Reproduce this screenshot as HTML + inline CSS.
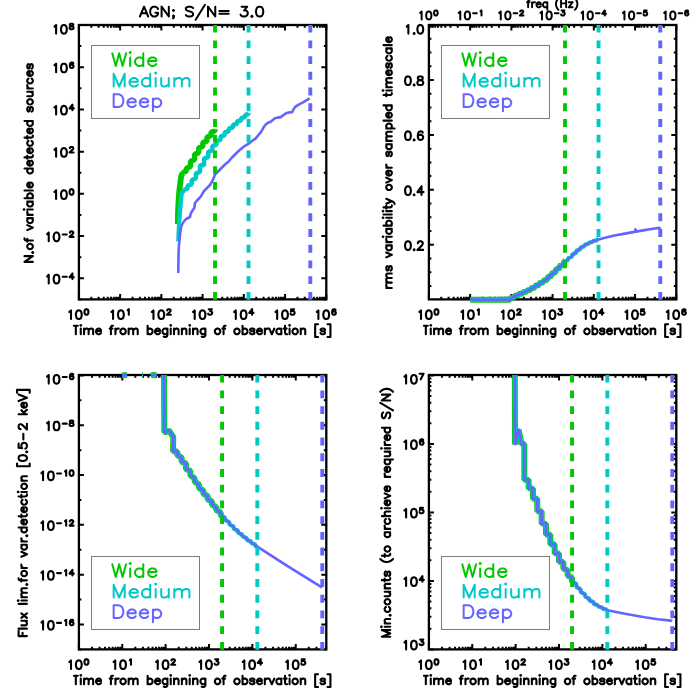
<!DOCTYPE html>
<html><head><meta charset="utf-8"><title>AGN variability</title><style>html,body{margin:0;padding:0;background:#fff;font-family:"Liberation Sans",sans-serif}svg{display:block}</style></head>
<body>
<svg width="700" height="700" viewBox="0 0 700 700">
<rect width="700" height="700" fill="#fff"/>
<rect x="78.9" y="25" width="247.4" height="274.4" fill="none" stroke="#000" stroke-width="2.3"/>
<path d="M78.9 299.4L78.9 293.9M78.9 25L78.9 30.5M91.31 299.4L91.31 296.7M91.31 25L91.31 27.7M98.57 299.4L98.57 296.7M98.57 25L98.57 27.7M103.72 299.4L103.72 296.7M103.72 25L103.72 27.7M107.72 299.4L107.72 296.7M107.72 25L107.72 27.7M110.99 299.4L110.99 296.7M110.99 25L110.99 27.7M113.75 299.4L113.75 296.7M113.75 25L113.75 27.7M116.14 299.4L116.14 296.7M116.14 25L116.14 27.7M118.25 299.4L118.25 296.7M118.25 25L118.25 27.7M120.13 299.4L120.13 293.9M120.13 25L120.13 30.5M132.55 299.4L132.55 296.7M132.55 25L132.55 27.7M139.81 299.4L139.81 296.7M139.81 25L139.81 27.7M144.96 299.4L144.96 296.7M144.96 25L144.96 27.7M148.95 299.4L148.95 296.7M148.95 25L148.95 27.7M152.22 299.4L152.22 296.7M152.22 25L152.22 27.7M154.98 299.4L154.98 296.7M154.98 25L154.98 27.7M157.37 299.4L157.37 296.7M157.37 25L157.37 27.7M159.48 299.4L159.48 296.7M159.48 25L159.48 27.7M161.37 299.4L161.37 293.9M161.37 25L161.37 30.5M173.78 299.4L173.78 296.7M173.78 25L173.78 27.7M181.04 299.4L181.04 296.7M181.04 25L181.04 27.7M186.19 299.4L186.19 296.7M186.19 25L186.19 27.7M190.19 299.4L190.19 296.7M190.19 25L190.19 27.7M193.45 299.4L193.45 296.7M193.45 25L193.45 27.7M196.21 299.4L196.21 296.7M196.21 25L196.21 27.7M198.6 299.4L198.6 296.7M198.6 25L198.6 27.7M200.71 299.4L200.71 296.7M200.71 25L200.71 27.7M202.6 299.4L202.6 293.9M202.6 25L202.6 30.5M215.01 299.4L215.01 296.7M215.01 25L215.01 27.7M222.27 299.4L222.27 296.7M222.27 25L222.27 27.7M227.42 299.4L227.42 296.7M227.42 25L227.42 27.7M231.42 299.4L231.42 296.7M231.42 25L231.42 27.7M234.69 299.4L234.69 296.7M234.69 25L234.69 27.7M237.45 299.4L237.45 296.7M237.45 25L237.45 27.7M239.84 299.4L239.84 296.7M239.84 25L239.84 27.7M241.95 299.4L241.95 296.7M241.95 25L241.95 27.7M243.83 299.4L243.83 293.9M243.83 25L243.83 30.5M256.25 299.4L256.25 296.7M256.25 25L256.25 27.7M263.51 299.4L263.51 296.7M263.51 25L263.51 27.7M268.66 299.4L268.66 296.7M268.66 25L268.66 27.7M272.65 299.4L272.65 296.7M272.65 25L272.65 27.7M275.92 299.4L275.92 296.7M275.92 25L275.92 27.7M278.68 299.4L278.68 296.7M278.68 25L278.68 27.7M281.07 299.4L281.07 296.7M281.07 25L281.07 27.7M283.18 299.4L283.18 296.7M283.18 25L283.18 27.7M285.07 299.4L285.07 293.9M285.07 25L285.07 30.5M297.48 299.4L297.48 296.7M297.48 25L297.48 27.7M304.74 299.4L304.74 296.7M304.74 25L304.74 27.7M309.89 299.4L309.89 296.7M309.89 25L309.89 27.7M313.89 299.4L313.89 296.7M313.89 25L313.89 27.7M317.15 299.4L317.15 296.7M317.15 25L317.15 27.7M319.91 299.4L319.91 296.7M319.91 25L319.91 27.7M322.3 299.4L322.3 296.7M322.3 25L322.3 27.7M324.41 299.4L324.41 296.7M324.41 25L324.41 27.7M326.3 299.4L326.3 293.9M326.3 25L326.3 30.5M78.9 299.4L81.4 299.4M326.3 299.4L323.8 299.4M78.9 278.29L83.9 278.29M326.3 278.29L321.3 278.29M78.9 257.18L81.4 257.18M326.3 257.18L323.8 257.18M78.9 236.08L83.9 236.08M326.3 236.08L321.3 236.08M78.9 214.97L81.4 214.97M326.3 214.97L323.8 214.97M78.9 193.86L83.9 193.86M326.3 193.86L321.3 193.86M78.9 172.75L81.4 172.75M326.3 172.75L323.8 172.75M78.9 151.65L83.9 151.65M326.3 151.65L321.3 151.65M78.9 130.54L81.4 130.54M326.3 130.54L323.8 130.54M78.9 109.43L83.9 109.43M326.3 109.43L321.3 109.43M78.9 88.32L81.4 88.32M326.3 88.32L323.8 88.32M78.9 67.22L83.9 67.22M326.3 67.22L321.3 67.22M78.9 46.11L81.4 46.11M326.3 46.11L323.8 46.11M78.9 25L83.9 25M326.3 25L321.3 25" stroke="#000" stroke-width="2" fill="none"/>
<g>
<polyline points="177.8,224 178,212 178.6,200 179.3,191 180.2,184 181.2,176 182.2,174 183.2,173.2" fill="none" stroke="#00c800" stroke-width="5.8" stroke-linejoin="round" stroke-linecap="butt"/>
<polyline points="182.2,172.45 186.32,171.42 186.32,168.13 190.45,166.67 190.45,161.26 194.57,159.84 194.57,154.35 198.69,152.83 198.69,147.87 202.81,146.45 202.81,142.48 206.94,141.14 206.94,137.08 211.06,135.75 211.06,132.02 215,130.95 215,129.3" fill="none" stroke="#00c800" stroke-width="5.3" stroke-linejoin="bevel" stroke-linecap="butt"/>
<polyline points="178.4,241.5 178.7,232 179.3,220 180,211 180.7,204 181.3,197 181.8,193 183.5,191 184.5,190.2" fill="none" stroke="#00c8c8" stroke-width="4.3" stroke-linejoin="round" stroke-linecap="butt"/>
<polyline points="183.5,189.74 187.62,188.9 187.62,185.68 191.75,184.34 191.75,180.01 195.87,178.46 195.87,173.44 199.99,171.98 199.99,165.22 204.11,165.18 204.12,158.5 208.24,157.1 208.24,151.86 212.36,150.28 212.36,145.99 216.48,144.74 216.48,141.06 220.61,139.83 220.61,136.37 224.73,135.32 224.73,132.22 228.85,131.24 228.85,128.41 232.98,127.49 232.98,124.79 237.1,123.9 237.1,121.3 241.22,120.44 241.22,117.9 245.34,117.08 245.34,114.65 248.6,114.14 248.6,113.3" fill="none" stroke="#00c8c8" stroke-width="4.5" stroke-linejoin="bevel" stroke-linecap="butt"/>
<polyline points="178.3,273 178.4,262 178.7,249 179.6,238 180.6,230 181.6,225.5 183.5,222 185.7,219.3 188,218 190,217 190.7,213.6 192.5,210.5 194.3,207.9 195,203 197,200.5 199.5,198 201.4,195.7 203,192.5 204.5,190.5 207,188 210,185 212.9,180 215,174.5 218,171.5 221.5,168 225,164.5 228.6,161.4 232,157.5 236,153.5 240,149.8 244,146.5 248.6,143.6 252,141 255.7,138.4 258.5,135 261.4,131.4 263.5,127.5 265.7,124.5 268,122.8 270.7,121.7 273,119.8 275,118.3 278,117.6 280.7,117.1 283.5,115 286.4,113.1 289,112.4 292.1,112.1 293.5,109.5 295,107.1 298.6,104.6 302.1,102.9 305.5,100.8 309.6,98.4" fill="none" stroke="#6464ff" stroke-width="2.6" stroke-linejoin="round" stroke-linecap="butt"/>
<line x1="215.01" y1="25.1" x2="215.01" y2="299.9" stroke="#00c800" stroke-width="3.9" stroke-dasharray="7.86 7.86" stroke-dashoffset="0.4"/>
<line x1="248.53" y1="25.1" x2="248.53" y2="299.9" stroke="#00c8c8" stroke-width="3.9" stroke-dasharray="7.86 7.86" stroke-dashoffset="0.4"/>
<line x1="310.29" y1="25.1" x2="310.29" y2="299.9" stroke="#6464ff" stroke-width="3.9" stroke-dasharray="7.86 7.86" stroke-dashoffset="0.4"/>
</g>
<rect x="91.5" y="45.5" width="108" height="73" fill="none" stroke="#7c7c7c" stroke-width="1"/>
<path transform="translate(110.9 65.9)" d="M1.38 -12.71 L4.82 0M8.27 -12.71 L4.82 0M8.27 -12.71 L11.71 0M15.16 -12.71 L11.71 0M18.74 -13.43 L19.29 -12.95 L19.84 -13.43 L19.29 -13.91 L18.74 -13.43M19.29 -8.47 L19.29 0M32.38 -12.71 L32.38 0M32.38 -6.65 L31 -7.87 L29.63 -8.47 L27.56 -8.47 L26.18 -7.87 L24.8 -6.65 L24.11 -4.84 L24.11 -3.63 L24.8 -1.81 L26.18 -0.6 L27.56 0 L29.63 0 L31 -0.6 L32.38 -1.81M37.21 -4.84 L45.47 -4.84 L45.47 -6.05 L44.78 -7.26 L44.1 -7.87 L42.72 -8.47 L40.65 -8.47 L39.27 -7.87 L37.89 -6.65 L37.21 -4.84 L37.21 -3.63 L37.89 -1.81 L39.27 -0.6 L40.65 0 L42.72 0 L44.1 -0.6 L45.47 -1.81" fill="none" stroke="#00c800" stroke-width="2" stroke-linecap="round" stroke-linejoin="round"/>
<path transform="translate(110.9 86.5)" d="M2.76 -12.71 L2.76 0M2.76 -12.71 L8.27 0M13.78 -12.71 L8.27 0M13.78 -12.71 L13.78 0M18.6 -4.84 L26.87 -4.84 L26.87 -6.05 L26.18 -7.26 L25.49 -7.87 L24.11 -8.47 L22.05 -8.47 L20.67 -7.87 L19.29 -6.65 L18.6 -4.84 L18.6 -3.63 L19.29 -1.81 L20.67 -0.6 L22.05 0 L24.11 0 L25.49 -0.6 L26.87 -1.81M39.27 -12.71 L39.27 0M39.27 -6.65 L37.89 -7.87 L36.52 -8.47 L34.45 -8.47 L33.07 -7.87 L31.69 -6.65 L31 -4.84 L31 -3.63 L31.69 -1.81 L33.07 -0.6 L34.45 0 L36.52 0 L37.89 -0.6 L39.27 -1.81M44.23 -13.43 L44.78 -12.95 L45.34 -13.43 L44.78 -13.91 L44.23 -13.43M44.78 -8.47 L44.78 0M50.3 -8.47 L50.3 -2.42 L50.99 -0.6 L52.36 0 L54.43 0 L55.81 -0.6 L57.88 -2.42M57.88 -8.47 L57.88 0M63.39 -8.47 L63.39 0M63.39 -6.05 L65.45 -7.87 L66.83 -8.47 L68.9 -8.47 L70.28 -7.87 L70.97 -6.05 L70.97 0M70.97 -6.05 L73.03 -7.87 L74.41 -8.47 L76.48 -8.47 L77.86 -7.87 L78.55 -6.05 L78.55 0" fill="none" stroke="#00c8c8" stroke-width="2" stroke-linecap="round" stroke-linejoin="round"/>
<path transform="translate(110.9 107)" d="M2.76 -12.71 L2.76 0M2.76 -12.71 L7.58 -12.71 L9.65 -12.1 L11.02 -10.89 L11.71 -9.68 L12.4 -7.87 L12.4 -4.84 L11.71 -3.02 L11.02 -1.81 L9.65 -0.6 L7.58 0 L2.76 0M16.54 -4.84 L24.8 -4.84 L24.8 -6.05 L24.11 -7.26 L23.43 -7.87 L22.05 -8.47 L19.98 -8.47 L18.6 -7.87 L17.22 -6.65 L16.54 -4.84 L16.54 -3.63 L17.22 -1.81 L18.6 -0.6 L19.98 0 L22.05 0 L23.43 -0.6 L24.8 -1.81M28.94 -4.84 L37.21 -4.84 L37.21 -6.05 L36.52 -7.26 L35.83 -7.87 L34.45 -8.47 L32.38 -8.47 L31 -7.87 L29.63 -6.65 L28.94 -4.84 L28.94 -3.63 L29.63 -1.81 L31 -0.6 L32.38 0 L34.45 0 L35.83 -0.6 L37.21 -1.81M42.03 -8.47 L42.03 4.23M42.03 -6.65 L43.41 -7.87 L44.78 -8.47 L46.85 -8.47 L48.23 -7.87 L49.61 -6.65 L50.3 -4.84 L50.3 -3.63 L49.61 -1.81 L48.23 -0.6 L46.85 0 L44.78 0 L43.41 -0.6 L42.03 -1.81" fill="none" stroke="#6464ff" stroke-width="2" stroke-linecap="round" stroke-linejoin="round"/>
<path transform="translate(202.1 16.5)" d="M-58.05 -9.83 L-62.18 0M-58.05 -9.83 L-53.92 0M-60.63 -3.28 L-55.47 -3.28M-44.12 -7.49 L-44.63 -8.42 L-45.67 -9.36 L-46.7 -9.83 L-48.76 -9.83 L-49.79 -9.36 L-50.83 -8.42 L-51.34 -7.49 L-51.86 -6.08 L-51.86 -3.74 L-51.34 -2.34 L-50.83 -1.4 L-49.79 -0.47 L-48.76 0 L-46.7 0 L-45.67 -0.47 L-44.63 -1.4 L-44.12 -2.34 L-44.12 -3.74M-46.7 -3.74 L-44.12 -3.74M-40.51 -9.83 L-40.51 0M-40.51 -9.83 L-33.28 0M-33.28 -9.83 L-33.28 0M-28.64 -6.55 L-29.15 -6.08 L-28.64 -5.62 L-28.12 -6.08 L-28.64 -6.55M-28.12 -0.47 L-28.64 0 L-29.15 -0.47 L-28.64 -0.94 L-28.12 -0.47 L-28.12 0.47 L-28.64 1.4 L-29.15 1.87M-9.03 -8.42 L-10.06 -9.36 L-11.61 -9.83 L-13.67 -9.83 L-15.22 -9.36 L-16.25 -8.42 L-16.25 -7.49 L-15.74 -6.55 L-15.22 -6.08 L-14.19 -5.62 L-11.09 -4.68 L-10.06 -4.21 L-9.55 -3.74 L-9.03 -2.81 L-9.03 -1.4 L-10.06 -0.47 L-11.61 0 L-13.67 0 L-15.22 -0.47 L-16.25 -1.4M2.84 -11.7 L-6.45 3.28M5.93 -9.83 L5.93 0M5.93 -9.83 L13.16 0M13.16 -9.83 L13.16 0M17.29 -5.62 L26.57 -5.62M17.29 -2.81 L26.57 -2.81M39.47 -9.83 L45.15 -9.83 L42.05 -6.08 L43.6 -6.08 L44.63 -5.62 L45.15 -5.15 L45.67 -3.74 L45.67 -2.81 L45.15 -1.4 L44.12 -0.47 L42.57 0 L41.02 0 L39.47 -0.47 L38.96 -0.94 L38.44 -1.87M49.79 -0.66 L49.17 -0.09 L49.79 0.47 L50.41 -0.09 L49.79 -0.66M57.02 -9.83 L55.47 -9.36 L54.44 -7.96 L53.92 -5.62 L53.92 -4.21 L54.44 -1.87 L55.47 -0.47 L57.02 0 L58.05 0 L59.6 -0.47 L60.63 -1.87 L61.15 -4.21 L61.15 -5.62 L60.63 -7.96 L59.6 -9.36 L58.05 -9.83 L57.02 -9.83" fill="none" stroke="#000" stroke-width="2" stroke-linecap="round" stroke-linejoin="round"/>
<path transform="translate(78.9 319)" d="M-9.54 -7.09 L-9.13 -7.38 L-7.9 -8.61 L-7.9 0M-0.5 -8.61 L-1.73 -8.2 L-2.56 -6.97 L-2.97 -4.92 L-2.97 -3.69 L-2.56 -1.64 L-1.73 -0.41 L-0.5 0 L0.32 0 L1.55 -0.41 L2.38 -1.64 L2.79 -3.69 L2.79 -4.92 L2.38 -6.97 L1.55 -8.2 L0.32 -8.61 L-0.5 -8.61M7.27 -9.82 L6.42 -9.55 L5.86 -8.77 L5.57 -7.45 L5.57 -6.67 L5.86 -5.35 L6.42 -4.57 L7.27 -4.3 L7.84 -4.3 L8.69 -4.57 L9.26 -5.35 L9.54 -6.67 L9.54 -7.45 L9.26 -8.77 L8.69 -9.55 L7.84 -9.82 L7.27 -9.82" fill="none" stroke="#000" stroke-width="2.1" stroke-linecap="round" stroke-linejoin="round"/>
<path transform="translate(120.13 319)" d="M-8.69 -7.09 L-8.28 -7.38 L-7.05 -8.61 L-7.05 0M0.35 -8.61 L-0.88 -8.2 L-1.7 -6.97 L-2.12 -4.92 L-2.12 -3.69 L-1.7 -1.64 L-0.88 -0.41 L0.35 0 L1.17 0 L2.41 -0.41 L3.23 -1.64 L3.64 -3.69 L3.64 -4.92 L3.23 -6.97 L2.41 -8.2 L1.17 -8.61 L0.35 -8.61M7.56 -8.84 L7.84 -9.03 L8.69 -9.82 L8.69 -4.3" fill="none" stroke="#000" stroke-width="2.1" stroke-linecap="round" stroke-linejoin="round"/>
<path transform="translate(161.37 319)" d="M-9.54 -7.09 L-9.13 -7.38 L-7.9 -8.61 L-7.9 0M-0.5 -8.61 L-1.73 -8.2 L-2.56 -6.97 L-2.97 -4.92 L-2.97 -3.69 L-2.56 -1.64 L-1.73 -0.41 L-0.5 0 L0.32 0 L1.55 -0.41 L2.38 -1.64 L2.79 -3.69 L2.79 -4.92 L2.38 -6.97 L1.55 -8.2 L0.32 -8.61 L-0.5 -8.61M5.86 -8.5 L5.86 -8.77 L6.14 -9.29 L6.42 -9.55 L6.99 -9.82 L8.12 -9.82 L8.69 -9.55 L8.97 -9.29 L9.26 -8.77 L9.26 -8.24 L8.97 -7.72 L8.41 -6.93 L5.57 -4.3 L9.54 -4.3" fill="none" stroke="#000" stroke-width="2.1" stroke-linecap="round" stroke-linejoin="round"/>
<path transform="translate(202.6 319)" d="M-9.54 -7.09 L-9.13 -7.38 L-7.9 -8.61 L-7.9 0M-0.5 -8.61 L-1.73 -8.2 L-2.56 -6.97 L-2.97 -4.92 L-2.97 -3.69 L-2.56 -1.64 L-1.73 -0.41 L-0.5 0 L0.32 0 L1.55 -0.41 L2.38 -1.64 L2.79 -3.69 L2.79 -4.92 L2.38 -6.97 L1.55 -8.2 L0.32 -8.61 L-0.5 -8.61M6.14 -9.82 L9.26 -9.82 L7.56 -7.72 L8.41 -7.72 L8.97 -7.45 L9.26 -7.19 L9.54 -6.4 L9.54 -5.88 L9.26 -5.09 L8.69 -4.57 L7.84 -4.3 L6.99 -4.3 L6.14 -4.57 L5.86 -4.83 L5.57 -5.35" fill="none" stroke="#000" stroke-width="2.1" stroke-linecap="round" stroke-linejoin="round"/>
<path transform="translate(243.83 319)" d="M-9.68 -7.09 L-9.27 -7.38 L-8.04 -8.61 L-8.04 0M-0.64 -8.61 L-1.87 -8.2 L-2.7 -6.97 L-3.11 -4.92 L-3.11 -3.69 L-2.7 -1.64 L-1.87 -0.41 L-0.64 0 L0.18 0 L1.41 -0.41 L2.24 -1.64 L2.65 -3.69 L2.65 -4.92 L2.24 -6.97 L1.41 -8.2 L0.18 -8.61 L-0.64 -8.61M8.27 -9.82 L5.43 -6.14 L9.68 -6.14M8.27 -9.82 L8.27 -4.3" fill="none" stroke="#000" stroke-width="2.1" stroke-linecap="round" stroke-linejoin="round"/>
<path transform="translate(285.07 319)" d="M-9.54 -7.09 L-9.13 -7.38 L-7.9 -8.61 L-7.9 0M-0.5 -8.61 L-1.73 -8.2 L-2.56 -6.97 L-2.97 -4.92 L-2.97 -3.69 L-2.56 -1.64 L-1.73 -0.41 L-0.5 0 L0.32 0 L1.55 -0.41 L2.38 -1.64 L2.79 -3.69 L2.79 -4.92 L2.38 -6.97 L1.55 -8.2 L0.32 -8.61 L-0.5 -8.61M8.97 -9.82 L6.14 -9.82 L5.86 -7.45 L6.14 -7.72 L6.99 -7.98 L7.84 -7.98 L8.69 -7.72 L9.26 -7.19 L9.54 -6.4 L9.54 -5.88 L9.26 -5.09 L8.69 -4.57 L7.84 -4.3 L6.99 -4.3 L6.14 -4.57 L5.86 -4.83 L5.57 -5.35" fill="none" stroke="#000" stroke-width="2.1" stroke-linecap="round" stroke-linejoin="round"/>
<path transform="translate(326.3 319)" d="M-9.54 -7.09 L-9.13 -7.38 L-7.9 -8.61 L-7.9 0M-0.5 -8.61 L-1.73 -8.2 L-2.56 -6.97 L-2.97 -4.92 L-2.97 -3.69 L-2.56 -1.64 L-1.73 -0.41 L-0.5 0 L0.32 0 L1.55 -0.41 L2.38 -1.64 L2.79 -3.69 L2.79 -4.92 L2.38 -6.97 L1.55 -8.2 L0.32 -8.61 L-0.5 -8.61M9.26 -9.03 L8.97 -9.55 L8.12 -9.82 L7.56 -9.82 L6.71 -9.55 L6.14 -8.77 L5.86 -7.45 L5.86 -6.14 L6.14 -5.09 L6.71 -4.57 L7.56 -4.3 L7.84 -4.3 L8.69 -4.57 L9.26 -5.09 L9.54 -5.88 L9.54 -6.14 L9.26 -6.93 L8.69 -7.45 L7.84 -7.72 L7.56 -7.72 L6.71 -7.45 L6.14 -6.93 L5.86 -6.14" fill="none" stroke="#000" stroke-width="2.1" stroke-linecap="round" stroke-linejoin="round"/>
<path transform="translate(202.3 334.2)" d="M-126.48 -8.4 L-126.48 0M-128.37 -8.4 L-124.58 -8.4M-121.85 -8.88 L-121.52 -8.56 L-121.19 -8.88 L-121.52 -9.2 L-121.85 -8.88M-121.52 -5.6 L-121.52 0M-118.22 -5.6 L-118.22 0M-118.22 -4 L-116.98 -5.2 L-116.16 -5.6 L-114.92 -5.6 L-114.1 -5.2 L-113.68 -4 L-113.68 0M-113.68 -4 L-112.45 -5.2 L-111.62 -5.6 L-110.38 -5.6 L-109.56 -5.2 L-109.14 -4 L-109.14 0M-106.26 -3.2 L-101.3 -3.2 L-101.3 -4 L-101.72 -4.8 L-102.13 -5.2 L-102.95 -5.6 L-104.19 -5.6 L-105.02 -5.2 L-105.84 -4.4 L-106.26 -3.2 L-106.26 -2.4 L-105.84 -1.2 L-105.02 -0.4 L-104.19 0 L-102.95 0 L-102.13 -0.4 L-101.3 -1.2M-89.34 -8.4 L-90.16 -8.4 L-90.99 -8 L-91.4 -6.8 L-91.4 0M-92.64 -5.6 L-89.75 -5.6M-86.86 -5.6 L-86.86 0M-86.86 -3.2 L-86.45 -4.4 L-85.62 -5.2 L-84.8 -5.6 L-83.56 -5.6M-79.85 -5.6 L-80.67 -5.2 L-81.5 -4.4 L-81.91 -3.2 L-81.91 -2.4 L-81.5 -1.2 L-80.67 -0.4 L-79.85 0 L-78.61 0 L-77.78 -0.4 L-76.96 -1.2 L-76.55 -2.4 L-76.55 -3.2 L-76.96 -4.4 L-77.78 -5.2 L-78.61 -5.6 L-79.85 -5.6M-73.66 -5.6 L-73.66 0M-73.66 -4 L-72.42 -5.2 L-71.59 -5.6 L-70.36 -5.6 L-69.53 -5.2 L-69.12 -4 L-69.12 0M-69.12 -4 L-67.88 -5.2 L-67.05 -5.6 L-65.82 -5.6 L-64.99 -5.2 L-64.58 -4 L-64.58 0M-54.68 -8.4 L-54.68 0M-54.68 -4.4 L-53.85 -5.2 L-53.02 -5.6 L-51.79 -5.6 L-50.96 -5.2 L-50.14 -4.4 L-49.72 -3.2 L-49.72 -2.4 L-50.14 -1.2 L-50.96 -0.4 L-51.79 0 L-53.02 0 L-53.85 -0.4 L-54.68 -1.2M-47.25 -3.2 L-42.3 -3.2 L-42.3 -4 L-42.71 -4.8 L-43.12 -5.2 L-43.95 -5.6 L-45.18 -5.6 L-46.01 -5.2 L-46.84 -4.4 L-47.25 -3.2 L-47.25 -2.4 L-46.84 -1.2 L-46.01 -0.4 L-45.18 0 L-43.95 0 L-43.12 -0.4 L-42.3 -1.2M-34.87 -5.6 L-34.87 0.8 L-35.28 2 L-35.69 2.4 L-36.52 2.8 L-37.76 2.8 L-38.58 2.4M-34.87 -4.4 L-35.69 -5.2 L-36.52 -5.6 L-37.76 -5.6 L-38.58 -5.2 L-39.41 -4.4 L-39.82 -3.2 L-39.82 -2.4 L-39.41 -1.2 L-38.58 -0.4 L-37.76 0 L-36.52 0 L-35.69 -0.4 L-34.87 -1.2M-31.9 -8.88 L-31.57 -8.56 L-31.24 -8.88 L-31.57 -9.2 L-31.9 -8.88M-31.57 -5.6 L-31.57 0M-28.27 -5.6 L-28.27 0M-28.27 -4 L-27.03 -5.2 L-26.2 -5.6 L-24.96 -5.6 L-24.14 -5.2 L-23.73 -4 L-23.73 0M-20.43 -5.6 L-20.43 0M-20.43 -4 L-19.19 -5.2 L-18.36 -5.6 L-17.12 -5.6 L-16.3 -5.2 L-15.89 -4 L-15.89 0M-12.92 -8.88 L-12.59 -8.56 L-12.26 -8.88 L-12.59 -9.2 L-12.92 -8.88M-12.59 -5.6 L-12.59 0M-9.28 -5.6 L-9.28 0M-9.28 -4 L-8.05 -5.2 L-7.22 -5.6 L-5.98 -5.6 L-5.16 -5.2 L-4.75 -4 L-4.75 0M3.09 -5.6 L3.09 0.8 L2.68 2 L2.27 2.4 L1.44 2.8 L0.21 2.8 L-0.62 2.4M3.09 -4.4 L2.27 -5.2 L1.44 -5.6 L0.21 -5.6 L-0.62 -5.2 L-1.44 -4.4 L-1.86 -3.2 L-1.86 -2.4 L-1.44 -1.2 L-0.62 -0.4 L0.21 0 L1.44 0 L2.27 -0.4 L3.09 -1.2M14.65 -5.6 L13.82 -5.2 L13 -4.4 L12.59 -3.2 L12.59 -2.4 L13 -1.2 L13.82 -0.4 L14.65 0 L15.89 0 L16.71 -0.4 L17.54 -1.2 L17.95 -2.4 L17.95 -3.2 L17.54 -4.4 L16.71 -5.2 L15.89 -5.6 L14.65 -5.6M23.31 -8.4 L22.49 -8.4 L21.66 -8 L21.25 -6.8 L21.25 0M20.01 -5.6 L22.9 -5.6M34.04 -5.6 L33.22 -5.2 L32.39 -4.4 L31.98 -3.2 L31.98 -2.4 L32.39 -1.2 L33.22 -0.4 L34.04 0 L35.28 0 L36.11 -0.4 L36.93 -1.2 L37.34 -2.4 L37.34 -3.2 L36.93 -4.4 L36.11 -5.2 L35.28 -5.6 L34.04 -5.6M40.23 -8.4 L40.23 0M40.23 -4.4 L41.06 -5.2 L41.88 -5.6 L43.12 -5.6 L43.95 -5.2 L44.77 -4.4 L45.18 -3.2 L45.18 -2.4 L44.77 -1.2 L43.95 -0.4 L43.12 0 L41.88 0 L41.06 -0.4 L40.23 -1.2M52.2 -4.4 L51.79 -5.2 L50.55 -5.6 L49.31 -5.6 L48.07 -5.2 L47.66 -4.4 L48.07 -3.6 L48.9 -3.2 L50.96 -2.8 L51.79 -2.4 L52.2 -1.6 L52.2 -1.2 L51.79 -0.4 L50.55 0 L49.31 0 L48.07 -0.4 L47.66 -1.2M54.68 -3.2 L59.63 -3.2 L59.63 -4 L59.21 -4.8 L58.8 -5.2 L57.98 -5.6 L56.74 -5.6 L55.91 -5.2 L55.09 -4.4 L54.68 -3.2 L54.68 -2.4 L55.09 -1.2 L55.91 -0.4 L56.74 0 L57.98 0 L58.8 -0.4 L59.63 -1.2M62.52 -5.6 L62.52 0M62.52 -3.2 L62.93 -4.4 L63.75 -5.2 L64.58 -5.6 L65.82 -5.6M67.05 -5.6 L69.53 0M72.01 -5.6 L69.53 0M79.02 -5.6 L79.02 0M79.02 -4.4 L78.2 -5.2 L77.37 -5.6 L76.13 -5.6 L75.31 -5.2 L74.48 -4.4 L74.07 -3.2 L74.07 -2.4 L74.48 -1.2 L75.31 -0.4 L76.13 0 L77.37 0 L78.2 -0.4 L79.02 -1.2M82.74 -8.4 L82.74 -1.6 L83.15 -0.4 L83.97 0 L84.8 0M81.5 -5.6 L84.39 -5.6M86.94 -8.88 L87.27 -8.56 L87.6 -8.88 L87.27 -9.2 L86.94 -8.88M87.27 -5.6 L87.27 0M92.23 -5.6 L91.4 -5.2 L90.58 -4.4 L90.16 -3.2 L90.16 -2.4 L90.58 -1.2 L91.4 -0.4 L92.23 0 L93.46 0 L94.29 -0.4 L95.11 -1.2 L95.53 -2.4 L95.53 -3.2 L95.11 -4.4 L94.29 -5.2 L93.46 -5.6 L92.23 -5.6M98.42 -5.6 L98.42 0M98.42 -4 L99.65 -5.2 L100.48 -5.6 L101.72 -5.6 L102.54 -5.2 L102.95 -4 L102.95 0M112.86 -10 L112.86 2.8M112.86 -10 L115.75 -10M112.86 2.8 L115.75 2.8M122.76 -4.4 L122.35 -5.2 L121.11 -5.6 L119.87 -5.6 L118.64 -5.2 L118.22 -4.4 L118.64 -3.6 L119.46 -3.2 L121.52 -2.8 L122.35 -2.4 L122.76 -1.6 L122.76 -1.2 L122.35 -0.4 L121.11 0 L119.87 0 L118.64 -0.4 L118.22 -1.2M128.13 -10 L128.13 2.8M125.24 -10 L128.13 -10M125.24 2.8 L128.13 2.8" fill="none" stroke="#000" stroke-width="2.1" stroke-linecap="round" stroke-linejoin="round"/>
<path transform="translate(74.4 33.61)" d="M-19.93 -7.09 L-19.52 -7.38 L-18.29 -8.61 L-18.29 0M-10.89 -8.61 L-12.13 -8.2 L-12.95 -6.97 L-13.36 -4.92 L-13.36 -3.69 L-12.95 -1.64 L-12.13 -0.41 L-10.89 0 L-10.07 0 L-8.84 -0.41 L-8.02 -1.64 L-7.6 -3.69 L-7.6 -4.92 L-8.02 -6.97 L-8.84 -8.2 L-10.07 -8.61 L-10.89 -8.61M-3.4 -9.82 L-4.25 -9.55 L-4.54 -9.03 L-4.54 -8.5 L-4.25 -7.98 L-3.69 -7.72 L-2.55 -7.45 L-1.7 -7.19 L-1.13 -6.67 L-0.85 -6.14 L-0.85 -5.35 L-1.13 -4.83 L-1.42 -4.57 L-2.27 -4.3 L-3.4 -4.3 L-4.25 -4.57 L-4.54 -4.83 L-4.82 -5.35 L-4.82 -6.14 L-4.54 -6.67 L-3.97 -7.19 L-3.12 -7.45 L-1.99 -7.72 L-1.42 -7.98 L-1.13 -8.5 L-1.13 -9.03 L-1.42 -9.55 L-2.27 -9.82 L-3.4 -9.82" fill="none" stroke="#000" stroke-width="2.1" stroke-linecap="round" stroke-linejoin="round"/>
<path transform="translate(74.4 72.32)" d="M-19.93 -7.09 L-19.52 -7.38 L-18.29 -8.61 L-18.29 0M-10.89 -8.61 L-12.13 -8.2 L-12.95 -6.97 L-13.36 -4.92 L-13.36 -3.69 L-12.95 -1.64 L-12.13 -0.41 L-10.89 0 L-10.07 0 L-8.84 -0.41 L-8.02 -1.64 L-7.6 -3.69 L-7.6 -4.92 L-8.02 -6.97 L-8.84 -8.2 L-10.07 -8.61 L-10.89 -8.61M-1.13 -9.03 L-1.42 -9.55 L-2.27 -9.82 L-2.84 -9.82 L-3.69 -9.55 L-4.25 -8.77 L-4.54 -7.45 L-4.54 -6.14 L-4.25 -5.09 L-3.69 -4.57 L-2.84 -4.3 L-2.55 -4.3 L-1.7 -4.57 L-1.13 -5.09 L-0.85 -5.88 L-0.85 -6.14 L-1.13 -6.93 L-1.7 -7.45 L-2.55 -7.72 L-2.84 -7.72 L-3.69 -7.45 L-4.25 -6.93 L-4.54 -6.14" fill="none" stroke="#000" stroke-width="2.1" stroke-linecap="round" stroke-linejoin="round"/>
<path transform="translate(74.4 114.53)" d="M-19.93 -7.09 L-19.52 -7.38 L-18.29 -8.61 L-18.29 0M-10.89 -8.61 L-12.13 -8.2 L-12.95 -6.97 L-13.36 -4.92 L-13.36 -3.69 L-12.95 -1.64 L-12.13 -0.41 L-10.89 0 L-10.07 0 L-8.84 -0.41 L-8.02 -1.64 L-7.6 -3.69 L-7.6 -4.92 L-8.02 -6.97 L-8.84 -8.2 L-10.07 -8.61 L-10.89 -8.61M-1.99 -9.82 L-4.82 -6.14 L-0.57 -6.14M-1.99 -9.82 L-1.99 -4.3" fill="none" stroke="#000" stroke-width="2.1" stroke-linecap="round" stroke-linejoin="round"/>
<path transform="translate(74.4 156.75)" d="M-19.93 -7.09 L-19.52 -7.38 L-18.29 -8.61 L-18.29 0M-10.89 -8.61 L-12.13 -8.2 L-12.95 -6.97 L-13.36 -4.92 L-13.36 -3.69 L-12.95 -1.64 L-12.13 -0.41 L-10.89 0 L-10.07 0 L-8.84 -0.41 L-8.02 -1.64 L-7.6 -3.69 L-7.6 -4.92 L-8.02 -6.97 L-8.84 -8.2 L-10.07 -8.61 L-10.89 -8.61M-4.54 -8.5 L-4.54 -8.77 L-4.25 -9.29 L-3.97 -9.55 L-3.4 -9.82 L-2.27 -9.82 L-1.7 -9.55 L-1.42 -9.29 L-1.13 -8.77 L-1.13 -8.24 L-1.42 -7.72 L-1.99 -6.93 L-4.82 -4.3 L-0.85 -4.3" fill="none" stroke="#000" stroke-width="2.1" stroke-linecap="round" stroke-linejoin="round"/>
<path transform="translate(74.4 198.96)" d="M-19.93 -7.09 L-19.52 -7.38 L-18.29 -8.61 L-18.29 0M-10.89 -8.61 L-12.13 -8.2 L-12.95 -6.97 L-13.36 -4.92 L-13.36 -3.69 L-12.95 -1.64 L-12.13 -0.41 L-10.89 0 L-10.07 0 L-8.84 -0.41 L-8.02 -1.64 L-7.6 -3.69 L-7.6 -4.92 L-8.02 -6.97 L-8.84 -8.2 L-10.07 -8.61 L-10.89 -8.61M-3.12 -9.82 L-3.97 -9.55 L-4.54 -8.77 L-4.82 -7.45 L-4.82 -6.67 L-4.54 -5.35 L-3.97 -4.57 L-3.12 -4.3 L-2.55 -4.3 L-1.7 -4.57 L-1.13 -5.35 L-0.85 -6.67 L-0.85 -7.45 L-1.13 -8.77 L-1.7 -9.55 L-2.55 -9.82 L-3.12 -9.82" fill="none" stroke="#000" stroke-width="2.1" stroke-linecap="round" stroke-linejoin="round"/>
<path transform="translate(74.4 241.18)" d="M-27.31 -7.09 L-26.9 -7.38 L-25.66 -8.61 L-25.66 0M-18.27 -8.61 L-19.5 -8.2 L-20.32 -6.97 L-20.73 -4.92 L-20.73 -3.69 L-20.32 -1.64 L-19.5 -0.41 L-18.27 0 L-17.44 0 L-16.21 -0.41 L-15.39 -1.64 L-14.98 -3.69 L-14.98 -4.92 L-15.39 -6.97 L-16.21 -8.2 L-17.44 -8.61 L-18.27 -8.61M-11.63 -6.67 L-7.66 -6.67M-4.54 -8.5 L-4.54 -8.77 L-4.25 -9.29 L-3.97 -9.55 L-3.4 -9.82 L-2.27 -9.82 L-1.7 -9.55 L-1.42 -9.29 L-1.13 -8.77 L-1.13 -8.24 L-1.42 -7.72 L-1.99 -6.93 L-4.82 -4.3 L-0.85 -4.3" fill="none" stroke="#000" stroke-width="2.1" stroke-linecap="round" stroke-linejoin="round"/>
<path transform="translate(74.4 283.39)" d="M-27.31 -7.09 L-26.9 -7.38 L-25.66 -8.61 L-25.66 0M-18.27 -8.61 L-19.5 -8.2 L-20.32 -6.97 L-20.73 -4.92 L-20.73 -3.69 L-20.32 -1.64 L-19.5 -0.41 L-18.27 0 L-17.44 0 L-16.21 -0.41 L-15.39 -1.64 L-14.98 -3.69 L-14.98 -4.92 L-15.39 -6.97 L-16.21 -8.2 L-17.44 -8.61 L-18.27 -8.61M-11.63 -6.67 L-7.66 -6.67M-1.99 -9.82 L-4.82 -6.14 L-0.57 -6.14M-1.99 -9.82 L-1.99 -4.3" fill="none" stroke="#000" stroke-width="2.1" stroke-linecap="round" stroke-linejoin="round"/>
<path transform="translate(32.8 163.2) rotate(-90)" d="M-98.72 -8.29 L-98.72 0M-98.72 -8.29 L-92.94 0M-92.94 -8.29 L-92.94 0M-89.22 -0.55 L-89.72 -0.08 L-89.22 0.4 L-88.72 -0.08 L-89.22 -0.55M-83.85 -5.53 L-84.68 -5.13 L-85.5 -4.35 L-85.92 -3.16 L-85.92 -2.37 L-85.5 -1.19 L-84.68 -0.4 L-83.85 0 L-82.61 0 L-81.78 -0.4 L-80.96 -1.19 L-80.55 -2.37 L-80.55 -3.16 L-80.96 -4.35 L-81.78 -5.13 L-82.61 -5.53 L-83.85 -5.53M-75.18 -8.29 L-76 -8.29 L-76.83 -7.9 L-77.24 -6.71 L-77.24 0M-78.48 -5.53 L-75.59 -5.53M-66.91 -5.53 L-64.44 0M-61.96 -5.53 L-64.44 0M-54.94 -5.53 L-54.94 0M-54.94 -4.35 L-55.76 -5.13 L-56.59 -5.53 L-57.83 -5.53 L-58.65 -5.13 L-59.48 -4.35 L-59.89 -3.16 L-59.89 -2.37 L-59.48 -1.19 L-58.65 -0.4 L-57.83 0 L-56.59 0 L-55.76 -0.4 L-54.94 -1.19M-51.63 -5.53 L-51.63 0M-51.63 -3.16 L-51.22 -4.35 L-50.39 -5.13 L-49.57 -5.53 L-48.33 -5.53M-46.59 -8.77 L-46.26 -8.45 L-45.93 -8.77 L-46.26 -9.09 L-46.59 -8.77M-46.26 -5.53 L-46.26 0M-38.41 -5.53 L-38.41 0M-38.41 -4.35 L-39.24 -5.13 L-40.07 -5.53 L-41.31 -5.53 L-42.13 -5.13 L-42.96 -4.35 L-43.37 -3.16 L-43.37 -2.37 L-42.96 -1.19 L-42.13 -0.4 L-41.31 0 L-40.07 0 L-39.24 -0.4 L-38.41 -1.19M-35.11 -8.29 L-35.11 0M-35.11 -4.35 L-34.28 -5.13 L-33.46 -5.53 L-32.22 -5.53 L-31.39 -5.13 L-30.57 -4.35 L-30.15 -3.16 L-30.15 -2.37 L-30.57 -1.19 L-31.39 -0.4 L-32.22 0 L-33.46 0 L-34.28 -0.4 L-35.11 -1.19M-27.26 -8.29 L-27.26 0M-24.37 -3.16 L-19.41 -3.16 L-19.41 -3.95 L-19.83 -4.74 L-20.24 -5.13 L-21.07 -5.53 L-22.3 -5.53 L-23.13 -5.13 L-23.96 -4.35 L-24.37 -3.16 L-24.37 -2.37 L-23.96 -1.19 L-23.13 -0.4 L-22.3 0 L-21.07 0 L-20.24 -0.4 L-19.41 -1.19M-5.37 -8.29 L-5.37 0M-5.37 -4.35 L-6.2 -5.13 L-7.02 -5.53 L-8.26 -5.53 L-9.09 -5.13 L-9.91 -4.35 L-10.33 -3.16 L-10.33 -2.37 L-9.91 -1.19 L-9.09 -0.4 L-8.26 0 L-7.02 0 L-6.2 -0.4 L-5.37 -1.19M-2.48 -3.16 L2.48 -3.16 L2.48 -3.95 L2.07 -4.74 L1.65 -5.13 L0.83 -5.53 L-0.41 -5.53 L-1.24 -5.13 L-2.07 -4.35 L-2.48 -3.16 L-2.48 -2.37 L-2.07 -1.19 L-1.24 -0.4 L-0.41 0 L0.83 0 L1.65 -0.4 L2.48 -1.19M5.78 -8.29 L5.78 -1.58 L6.2 -0.4 L7.02 0 L7.85 0M4.54 -5.53 L7.43 -5.53M9.91 -3.16 L14.87 -3.16 L14.87 -3.95 L14.46 -4.74 L14.04 -5.13 L13.22 -5.53 L11.98 -5.53 L11.15 -5.13 L10.33 -4.35 L9.91 -3.16 L9.91 -2.37 L10.33 -1.19 L11.15 -0.4 L11.98 0 L13.22 0 L14.04 -0.4 L14.87 -1.19M22.3 -4.35 L21.48 -5.13 L20.65 -5.53 L19.41 -5.53 L18.59 -5.13 L17.76 -4.35 L17.35 -3.16 L17.35 -2.37 L17.76 -1.19 L18.59 -0.4 L19.41 0 L20.65 0 L21.48 -0.4 L22.3 -1.19M25.61 -8.29 L25.61 -1.58 L26.02 -0.4 L26.85 0 L27.67 0M24.37 -5.53 L27.26 -5.53M29.74 -3.16 L34.7 -3.16 L34.7 -3.95 L34.28 -4.74 L33.87 -5.13 L33.04 -5.53 L31.81 -5.53 L30.98 -5.13 L30.15 -4.35 L29.74 -3.16 L29.74 -2.37 L30.15 -1.19 L30.98 -0.4 L31.81 0 L33.04 0 L33.87 -0.4 L34.7 -1.19M42.13 -8.29 L42.13 0M42.13 -4.35 L41.31 -5.13 L40.48 -5.53 L39.24 -5.53 L38.41 -5.13 L37.59 -4.35 L37.17 -3.16 L37.17 -2.37 L37.59 -1.19 L38.41 -0.4 L39.24 0 L40.48 0 L41.31 -0.4 L42.13 -1.19M56.18 -4.35 L55.76 -5.13 L54.52 -5.53 L53.28 -5.53 L52.04 -5.13 L51.63 -4.35 L52.04 -3.56 L52.87 -3.16 L54.94 -2.77 L55.76 -2.37 L56.18 -1.58 L56.18 -1.19 L55.76 -0.4 L54.52 0 L53.28 0 L52.04 -0.4 L51.63 -1.19M60.72 -5.53 L59.89 -5.13 L59.07 -4.35 L58.65 -3.16 L58.65 -2.37 L59.07 -1.19 L59.89 -0.4 L60.72 0 L61.96 0 L62.78 -0.4 L63.61 -1.19 L64.02 -2.37 L64.02 -3.16 L63.61 -4.35 L62.78 -5.13 L61.96 -5.53 L60.72 -5.53M66.91 -5.53 L66.91 -1.58 L67.33 -0.4 L68.15 0 L69.39 0 L70.22 -0.4 L71.46 -1.58M71.46 -5.53 L71.46 0M74.76 -5.53 L74.76 0M74.76 -3.16 L75.18 -4.35 L76 -5.13 L76.83 -5.53 L78.07 -5.53M84.68 -4.35 L83.85 -5.13 L83.02 -5.53 L81.78 -5.53 L80.96 -5.13 L80.13 -4.35 L79.72 -3.16 L79.72 -2.37 L80.13 -1.19 L80.96 -0.4 L81.78 0 L83.02 0 L83.85 -0.4 L84.68 -1.19M87.15 -3.16 L92.11 -3.16 L92.11 -3.95 L91.7 -4.74 L91.29 -5.13 L90.46 -5.53 L89.22 -5.53 L88.39 -5.13 L87.57 -4.35 L87.15 -3.16 L87.15 -2.37 L87.57 -1.19 L88.39 -0.4 L89.22 0 L90.46 0 L91.29 -0.4 L92.11 -1.19M99.13 -4.35 L98.72 -5.13 L97.48 -5.53 L96.24 -5.53 L95 -5.13 L94.59 -4.35 L95 -3.56 L95.83 -3.16 L97.89 -2.77 L98.72 -2.37 L99.13 -1.58 L99.13 -1.19 L98.72 -0.4 L97.48 0 L96.24 0 L95 -0.4 L94.59 -1.19" fill="none" stroke="#000" stroke-width="2.1" stroke-linecap="round" stroke-linejoin="round"/>
<rect x="428.9" y="25" width="247.4" height="274.4" fill="none" stroke="#000" stroke-width="2.3"/>
<path d="M428.9 299.4L428.9 293.9M428.9 25L428.9 30.5M441.31 299.4L441.31 296.7M457.72 25L457.72 27.7M448.57 299.4L448.57 296.7M450.46 25L450.46 27.7M453.72 299.4L453.72 296.7M445.31 25L445.31 27.7M457.72 299.4L457.72 296.7M441.31 25L441.31 27.7M460.99 299.4L460.99 296.7M438.05 25L438.05 27.7M463.75 299.4L463.75 296.7M435.29 25L435.29 27.7M466.14 299.4L466.14 296.7M432.9 25L432.9 27.7M468.25 299.4L468.25 296.7M430.79 25L430.79 27.7M470.13 299.4L470.13 293.9M470.13 25L470.13 30.5M482.55 299.4L482.55 296.7M498.95 25L498.95 27.7M489.81 299.4L489.81 296.7M491.69 25L491.69 27.7M494.96 299.4L494.96 296.7M486.54 25L486.54 27.7M498.95 299.4L498.95 296.7M482.55 25L482.55 27.7M502.22 299.4L502.22 296.7M479.28 25L479.28 27.7M504.98 299.4L504.98 296.7M476.52 25L476.52 27.7M507.37 299.4L507.37 296.7M474.13 25L474.13 27.7M509.48 299.4L509.48 296.7M472.02 25L472.02 27.7M511.37 299.4L511.37 293.9M511.37 25L511.37 30.5M523.78 299.4L523.78 296.7M540.19 25L540.19 27.7M531.04 299.4L531.04 296.7M532.93 25L532.93 27.7M536.19 299.4L536.19 296.7M527.78 25L527.78 27.7M540.19 299.4L540.19 296.7M523.78 25L523.78 27.7M543.45 299.4L543.45 296.7M520.51 25L520.51 27.7M546.21 299.4L546.21 296.7M517.75 25L517.75 27.7M548.6 299.4L548.6 296.7M515.36 25L515.36 27.7M550.71 299.4L550.71 296.7M513.25 25L513.25 27.7M552.6 299.4L552.6 293.9M552.6 25L552.6 30.5M565.01 299.4L565.01 296.7M581.42 25L581.42 27.7M572.27 299.4L572.27 296.7M574.16 25L574.16 27.7M577.42 299.4L577.42 296.7M569.01 25L569.01 27.7M581.42 299.4L581.42 296.7M565.01 25L565.01 27.7M584.69 299.4L584.69 296.7M561.75 25L561.75 27.7M587.45 299.4L587.45 296.7M558.99 25L558.99 27.7M589.84 299.4L589.84 296.7M556.6 25L556.6 27.7M591.95 299.4L591.95 296.7M554.49 25L554.49 27.7M593.83 299.4L593.83 293.9M593.83 25L593.83 30.5M606.25 299.4L606.25 296.7M622.65 25L622.65 27.7M613.51 299.4L613.51 296.7M615.39 25L615.39 27.7M618.66 299.4L618.66 296.7M610.24 25L610.24 27.7M622.65 299.4L622.65 296.7M606.25 25L606.25 27.7M625.92 299.4L625.92 296.7M602.98 25L602.98 27.7M628.68 299.4L628.68 296.7M600.22 25L600.22 27.7M631.07 299.4L631.07 296.7M597.83 25L597.83 27.7M633.18 299.4L633.18 296.7M595.72 25L595.72 27.7M635.07 299.4L635.07 293.9M635.07 25L635.07 30.5M647.48 299.4L647.48 296.7M663.89 25L663.89 27.7M654.74 299.4L654.74 296.7M656.63 25L656.63 27.7M659.89 299.4L659.89 296.7M651.48 25L651.48 27.7M663.89 299.4L663.89 296.7M647.48 25L647.48 27.7M667.15 299.4L667.15 296.7M644.21 25L644.21 27.7M669.91 299.4L669.91 296.7M641.45 25L641.45 27.7M672.3 299.4L672.3 296.7M639.06 25L639.06 27.7M674.41 299.4L674.41 296.7M636.95 25L636.95 27.7M676.3 299.4L676.3 293.9M676.3 25L676.3 30.5M428.9 286.01L431.4 286.01M676.3 286.01L673.8 286.01M428.9 272.27L431.4 272.27M676.3 272.27L673.8 272.27M428.9 258.54L431.4 258.54M676.3 258.54L673.8 258.54M428.9 244.8L433.9 244.8M676.3 244.8L671.3 244.8M428.9 231.06L431.4 231.06M676.3 231.06L673.8 231.06M428.9 217.32L431.4 217.32M676.3 217.32L673.8 217.32M428.9 203.59L431.4 203.59M676.3 203.59L673.8 203.59M428.9 189.85L433.9 189.85M676.3 189.85L671.3 189.85M428.9 176.11L431.4 176.11M676.3 176.11L673.8 176.11M428.9 162.38L431.4 162.38M676.3 162.38L673.8 162.38M428.9 148.64L431.4 148.64M676.3 148.64L673.8 148.64M428.9 134.9L433.9 134.9M676.3 134.9L671.3 134.9M428.9 121.16L431.4 121.16M676.3 121.16L673.8 121.16M428.9 107.42L431.4 107.42M676.3 107.42L673.8 107.42M428.9 93.69L431.4 93.69M676.3 93.69L673.8 93.69M428.9 79.95L433.9 79.95M676.3 79.95L671.3 79.95M428.9 66.21L431.4 66.21M676.3 66.21L673.8 66.21M428.9 52.47L431.4 52.47M676.3 52.47L673.8 52.47M428.9 38.74L431.4 38.74M676.3 38.74L673.8 38.74M428.9 25L433.9 25M676.3 25L671.3 25" stroke="#000" stroke-width="2" fill="none"/>
<g>
<polyline points="470.3,299.7 510.3,299.7 510.3,298.01 514.42,297.02 514.42,296 518.55,295.16 518.55,294.15 522.67,293.34 522.67,292.36 526.79,291.57 526.79,290.57 530.92,289.63 530.91,288.33 535.04,287.27 535.04,285.97 539.16,284.86 539.16,283.44 543.28,282.28 543.28,280.86 547.41,279.49 547.41,277.49 551.53,275.8 551.53,273.72 555.65,271.97 555.65,269.74 559.78,267.91 559.78,265.67 563.9,263.88 563.9,261.8 565.01,261.36" fill="none" stroke="#00c800" stroke-width="5.9" stroke-linejoin="bevel" stroke-linecap="butt"/>
<polyline points="470.3,299.7 510.3,299.7 510.3,298.01 514.42,297.02 514.42,296 518.55,295.16 518.55,294.15 522.67,293.34 522.67,292.36 526.79,291.57 526.79,290.57 530.92,289.63 530.91,288.33 535.04,287.27 535.04,285.97 539.16,284.86 539.16,283.44 543.28,282.28 543.28,280.86 547.41,279.49 547.41,277.49 551.53,275.8 551.53,273.72 555.65,271.97 555.65,269.74 559.78,267.91 559.78,265.67 563.9,263.88 563.9,261.8 568.02,260.15 568.02,258.14 572.15,256.48 572.14,254.43 576.27,252.75 576.27,250.69 580.39,249.16 580.39,247.5 584.51,246.16 584.51,244.74 588.64,243.79 588.64,242.69 592.76,241.86 592.76,240.99 596.88,240.34 596.88,239.57 598.53,239.35" fill="none" stroke="#00c8c8" stroke-width="4.2" stroke-linejoin="bevel" stroke-linecap="butt"/>
<polyline points="470.3,299.7 510.3,299.7 510.3,298.72 514.42,296.51 514.42,296.51 518.55,294.65 518.55,294.65 522.67,292.85 522.67,292.85 526.79,291.08 526.79,291.08 530.92,288.98 530.91,288.98 535.04,286.62 535.04,286.62 539.16,284.15 539.16,284.15 543.28,281.57 543.28,281.57 547.41,278.53 547.41,278.5 551.53,274.79 551.53,274.68 555.65,270.95 555.65,270.68 559.78,266.97 559.78,266.66 563.9,262.94 563.9,262.81 568.02,259.15 568.02,259.15 572.15,255.46 572.14,255.45 576.27,251.73 576.27,251.72 580.39,248.31 580.39,248.31 584.51,245.35 584.51,245.35 588.64,243.24 588.64,243.24 592.76,241.39 592.76,241.39 596.88,239.94 596.88,239.94 598.53,239.46 606,237.5 615.7,235.3 625,233.6 634.3,231.9 635,231.7 635.4,229.3 635.9,231.6 643,230.4 652.9,228.8 659.3,227.9 660.2,229.2" fill="none" stroke="#6464ff" stroke-width="2.6" stroke-linejoin="round" stroke-linecap="butt"/>
<line x1="565.01" y1="25.1" x2="565.01" y2="299.9" stroke="#00c800" stroke-width="3.9" stroke-dasharray="7.86 7.86" stroke-dashoffset="0.4"/>
<line x1="598.53" y1="25.1" x2="598.53" y2="299.9" stroke="#00c8c8" stroke-width="3.9" stroke-dasharray="7.86 7.86" stroke-dashoffset="0.4"/>
<line x1="660.29" y1="25.1" x2="660.29" y2="299.9" stroke="#6464ff" stroke-width="3.9" stroke-dasharray="7.86 7.86" stroke-dashoffset="0.4"/>
</g>
<rect x="441.5" y="45.5" width="108" height="73" fill="none" stroke="#7c7c7c" stroke-width="1"/>
<path transform="translate(460.9 65.9)" d="M1.38 -12.71 L4.82 0M8.27 -12.71 L4.82 0M8.27 -12.71 L11.71 0M15.16 -12.71 L11.71 0M18.74 -13.43 L19.29 -12.95 L19.84 -13.43 L19.29 -13.91 L18.74 -13.43M19.29 -8.47 L19.29 0M32.38 -12.71 L32.38 0M32.38 -6.65 L31 -7.87 L29.63 -8.47 L27.56 -8.47 L26.18 -7.87 L24.8 -6.65 L24.11 -4.84 L24.11 -3.63 L24.8 -1.81 L26.18 -0.6 L27.56 0 L29.63 0 L31 -0.6 L32.38 -1.81M37.21 -4.84 L45.47 -4.84 L45.47 -6.05 L44.78 -7.26 L44.1 -7.87 L42.72 -8.47 L40.65 -8.47 L39.27 -7.87 L37.89 -6.65 L37.21 -4.84 L37.21 -3.63 L37.89 -1.81 L39.27 -0.6 L40.65 0 L42.72 0 L44.1 -0.6 L45.47 -1.81" fill="none" stroke="#00c800" stroke-width="2" stroke-linecap="round" stroke-linejoin="round"/>
<path transform="translate(460.9 86.5)" d="M2.76 -12.71 L2.76 0M2.76 -12.71 L8.27 0M13.78 -12.71 L8.27 0M13.78 -12.71 L13.78 0M18.6 -4.84 L26.87 -4.84 L26.87 -6.05 L26.18 -7.26 L25.49 -7.87 L24.11 -8.47 L22.05 -8.47 L20.67 -7.87 L19.29 -6.65 L18.6 -4.84 L18.6 -3.63 L19.29 -1.81 L20.67 -0.6 L22.05 0 L24.11 0 L25.49 -0.6 L26.87 -1.81M39.27 -12.71 L39.27 0M39.27 -6.65 L37.89 -7.87 L36.52 -8.47 L34.45 -8.47 L33.07 -7.87 L31.69 -6.65 L31 -4.84 L31 -3.63 L31.69 -1.81 L33.07 -0.6 L34.45 0 L36.52 0 L37.89 -0.6 L39.27 -1.81M44.23 -13.43 L44.78 -12.95 L45.34 -13.43 L44.78 -13.91 L44.23 -13.43M44.78 -8.47 L44.78 0M50.3 -8.47 L50.3 -2.42 L50.99 -0.6 L52.36 0 L54.43 0 L55.81 -0.6 L57.88 -2.42M57.88 -8.47 L57.88 0M63.39 -8.47 L63.39 0M63.39 -6.05 L65.45 -7.87 L66.83 -8.47 L68.9 -8.47 L70.28 -7.87 L70.97 -6.05 L70.97 0M70.97 -6.05 L73.03 -7.87 L74.41 -8.47 L76.48 -8.47 L77.86 -7.87 L78.55 -6.05 L78.55 0" fill="none" stroke="#00c8c8" stroke-width="2" stroke-linecap="round" stroke-linejoin="round"/>
<path transform="translate(460.9 107)" d="M2.76 -12.71 L2.76 0M2.76 -12.71 L7.58 -12.71 L9.65 -12.1 L11.02 -10.89 L11.71 -9.68 L12.4 -7.87 L12.4 -4.84 L11.71 -3.02 L11.02 -1.81 L9.65 -0.6 L7.58 0 L2.76 0M16.54 -4.84 L24.8 -4.84 L24.8 -6.05 L24.11 -7.26 L23.43 -7.87 L22.05 -8.47 L19.98 -8.47 L18.6 -7.87 L17.22 -6.65 L16.54 -4.84 L16.54 -3.63 L17.22 -1.81 L18.6 -0.6 L19.98 0 L22.05 0 L23.43 -0.6 L24.8 -1.81M28.94 -4.84 L37.21 -4.84 L37.21 -6.05 L36.52 -7.26 L35.83 -7.87 L34.45 -8.47 L32.38 -8.47 L31 -7.87 L29.63 -6.65 L28.94 -4.84 L28.94 -3.63 L29.63 -1.81 L31 -0.6 L32.38 0 L34.45 0 L35.83 -0.6 L37.21 -1.81M42.03 -8.47 L42.03 4.23M42.03 -6.65 L43.41 -7.87 L44.78 -8.47 L46.85 -8.47 L48.23 -7.87 L49.61 -6.65 L50.3 -4.84 L50.3 -3.63 L49.61 -1.81 L48.23 -0.6 L46.85 0 L44.78 0 L43.41 -0.6 L42.03 -1.81" fill="none" stroke="#6464ff" stroke-width="2" stroke-linecap="round" stroke-linejoin="round"/>
<path transform="translate(428.9 319)" d="M-9.54 -7.09 L-9.13 -7.38 L-7.9 -8.61 L-7.9 0M-0.5 -8.61 L-1.73 -8.2 L-2.56 -6.97 L-2.97 -4.92 L-2.97 -3.69 L-2.56 -1.64 L-1.73 -0.41 L-0.5 0 L0.32 0 L1.55 -0.41 L2.38 -1.64 L2.79 -3.69 L2.79 -4.92 L2.38 -6.97 L1.55 -8.2 L0.32 -8.61 L-0.5 -8.61M7.27 -9.82 L6.42 -9.55 L5.86 -8.77 L5.57 -7.45 L5.57 -6.67 L5.86 -5.35 L6.42 -4.57 L7.27 -4.3 L7.84 -4.3 L8.69 -4.57 L9.26 -5.35 L9.54 -6.67 L9.54 -7.45 L9.26 -8.77 L8.69 -9.55 L7.84 -9.82 L7.27 -9.82" fill="none" stroke="#000" stroke-width="2.1" stroke-linecap="round" stroke-linejoin="round"/>
<path transform="translate(470.13 319)" d="M-8.69 -7.09 L-8.28 -7.38 L-7.05 -8.61 L-7.05 0M0.35 -8.61 L-0.88 -8.2 L-1.7 -6.97 L-2.12 -4.92 L-2.12 -3.69 L-1.7 -1.64 L-0.88 -0.41 L0.35 0 L1.17 0 L2.41 -0.41 L3.23 -1.64 L3.64 -3.69 L3.64 -4.92 L3.23 -6.97 L2.41 -8.2 L1.17 -8.61 L0.35 -8.61M7.56 -8.84 L7.84 -9.03 L8.69 -9.82 L8.69 -4.3" fill="none" stroke="#000" stroke-width="2.1" stroke-linecap="round" stroke-linejoin="round"/>
<path transform="translate(511.37 319)" d="M-9.54 -7.09 L-9.13 -7.38 L-7.9 -8.61 L-7.9 0M-0.5 -8.61 L-1.73 -8.2 L-2.56 -6.97 L-2.97 -4.92 L-2.97 -3.69 L-2.56 -1.64 L-1.73 -0.41 L-0.5 0 L0.32 0 L1.55 -0.41 L2.38 -1.64 L2.79 -3.69 L2.79 -4.92 L2.38 -6.97 L1.55 -8.2 L0.32 -8.61 L-0.5 -8.61M5.86 -8.5 L5.86 -8.77 L6.14 -9.29 L6.42 -9.55 L6.99 -9.82 L8.12 -9.82 L8.69 -9.55 L8.97 -9.29 L9.26 -8.77 L9.26 -8.24 L8.97 -7.72 L8.41 -6.93 L5.57 -4.3 L9.54 -4.3" fill="none" stroke="#000" stroke-width="2.1" stroke-linecap="round" stroke-linejoin="round"/>
<path transform="translate(552.6 319)" d="M-9.54 -7.09 L-9.13 -7.38 L-7.9 -8.61 L-7.9 0M-0.5 -8.61 L-1.73 -8.2 L-2.56 -6.97 L-2.97 -4.92 L-2.97 -3.69 L-2.56 -1.64 L-1.73 -0.41 L-0.5 0 L0.32 0 L1.55 -0.41 L2.38 -1.64 L2.79 -3.69 L2.79 -4.92 L2.38 -6.97 L1.55 -8.2 L0.32 -8.61 L-0.5 -8.61M6.14 -9.82 L9.26 -9.82 L7.56 -7.72 L8.41 -7.72 L8.97 -7.45 L9.26 -7.19 L9.54 -6.4 L9.54 -5.88 L9.26 -5.09 L8.69 -4.57 L7.84 -4.3 L6.99 -4.3 L6.14 -4.57 L5.86 -4.83 L5.57 -5.35" fill="none" stroke="#000" stroke-width="2.1" stroke-linecap="round" stroke-linejoin="round"/>
<path transform="translate(593.83 319)" d="M-9.68 -7.09 L-9.27 -7.38 L-8.04 -8.61 L-8.04 0M-0.64 -8.61 L-1.87 -8.2 L-2.7 -6.97 L-3.11 -4.92 L-3.11 -3.69 L-2.7 -1.64 L-1.87 -0.41 L-0.64 0 L0.18 0 L1.41 -0.41 L2.24 -1.64 L2.65 -3.69 L2.65 -4.92 L2.24 -6.97 L1.41 -8.2 L0.18 -8.61 L-0.64 -8.61M8.27 -9.82 L5.43 -6.14 L9.68 -6.14M8.27 -9.82 L8.27 -4.3" fill="none" stroke="#000" stroke-width="2.1" stroke-linecap="round" stroke-linejoin="round"/>
<path transform="translate(635.07 319)" d="M-9.54 -7.09 L-9.13 -7.38 L-7.9 -8.61 L-7.9 0M-0.5 -8.61 L-1.73 -8.2 L-2.56 -6.97 L-2.97 -4.92 L-2.97 -3.69 L-2.56 -1.64 L-1.73 -0.41 L-0.5 0 L0.32 0 L1.55 -0.41 L2.38 -1.64 L2.79 -3.69 L2.79 -4.92 L2.38 -6.97 L1.55 -8.2 L0.32 -8.61 L-0.5 -8.61M8.97 -9.82 L6.14 -9.82 L5.86 -7.45 L6.14 -7.72 L6.99 -7.98 L7.84 -7.98 L8.69 -7.72 L9.26 -7.19 L9.54 -6.4 L9.54 -5.88 L9.26 -5.09 L8.69 -4.57 L7.84 -4.3 L6.99 -4.3 L6.14 -4.57 L5.86 -4.83 L5.57 -5.35" fill="none" stroke="#000" stroke-width="2.1" stroke-linecap="round" stroke-linejoin="round"/>
<path transform="translate(676.3 319)" d="M-9.54 -7.09 L-9.13 -7.38 L-7.9 -8.61 L-7.9 0M-0.5 -8.61 L-1.73 -8.2 L-2.56 -6.97 L-2.97 -4.92 L-2.97 -3.69 L-2.56 -1.64 L-1.73 -0.41 L-0.5 0 L0.32 0 L1.55 -0.41 L2.38 -1.64 L2.79 -3.69 L2.79 -4.92 L2.38 -6.97 L1.55 -8.2 L0.32 -8.61 L-0.5 -8.61M9.26 -9.03 L8.97 -9.55 L8.12 -9.82 L7.56 -9.82 L6.71 -9.55 L6.14 -8.77 L5.86 -7.45 L5.86 -6.14 L6.14 -5.09 L6.71 -4.57 L7.56 -4.3 L7.84 -4.3 L8.69 -4.57 L9.26 -5.09 L9.54 -5.88 L9.54 -6.14 L9.26 -6.93 L8.69 -7.45 L7.84 -7.72 L7.56 -7.72 L6.71 -7.45 L6.14 -6.93 L5.86 -6.14" fill="none" stroke="#000" stroke-width="2.1" stroke-linecap="round" stroke-linejoin="round"/>
<path transform="translate(552.3 334.2)" d="M-126.48 -8.4 L-126.48 0M-128.37 -8.4 L-124.58 -8.4M-121.85 -8.88 L-121.52 -8.56 L-121.19 -8.88 L-121.52 -9.2 L-121.85 -8.88M-121.52 -5.6 L-121.52 0M-118.22 -5.6 L-118.22 0M-118.22 -4 L-116.98 -5.2 L-116.16 -5.6 L-114.92 -5.6 L-114.1 -5.2 L-113.68 -4 L-113.68 0M-113.68 -4 L-112.45 -5.2 L-111.62 -5.6 L-110.38 -5.6 L-109.56 -5.2 L-109.14 -4 L-109.14 0M-106.26 -3.2 L-101.3 -3.2 L-101.3 -4 L-101.72 -4.8 L-102.13 -5.2 L-102.95 -5.6 L-104.19 -5.6 L-105.02 -5.2 L-105.84 -4.4 L-106.26 -3.2 L-106.26 -2.4 L-105.84 -1.2 L-105.02 -0.4 L-104.19 0 L-102.95 0 L-102.13 -0.4 L-101.3 -1.2M-89.34 -8.4 L-90.16 -8.4 L-90.99 -8 L-91.4 -6.8 L-91.4 0M-92.64 -5.6 L-89.75 -5.6M-86.86 -5.6 L-86.86 0M-86.86 -3.2 L-86.45 -4.4 L-85.62 -5.2 L-84.8 -5.6 L-83.56 -5.6M-79.85 -5.6 L-80.67 -5.2 L-81.5 -4.4 L-81.91 -3.2 L-81.91 -2.4 L-81.5 -1.2 L-80.67 -0.4 L-79.85 0 L-78.61 0 L-77.78 -0.4 L-76.96 -1.2 L-76.55 -2.4 L-76.55 -3.2 L-76.96 -4.4 L-77.78 -5.2 L-78.61 -5.6 L-79.85 -5.6M-73.66 -5.6 L-73.66 0M-73.66 -4 L-72.42 -5.2 L-71.59 -5.6 L-70.36 -5.6 L-69.53 -5.2 L-69.12 -4 L-69.12 0M-69.12 -4 L-67.88 -5.2 L-67.05 -5.6 L-65.82 -5.6 L-64.99 -5.2 L-64.58 -4 L-64.58 0M-54.68 -8.4 L-54.68 0M-54.68 -4.4 L-53.85 -5.2 L-53.02 -5.6 L-51.79 -5.6 L-50.96 -5.2 L-50.14 -4.4 L-49.72 -3.2 L-49.72 -2.4 L-50.14 -1.2 L-50.96 -0.4 L-51.79 0 L-53.02 0 L-53.85 -0.4 L-54.68 -1.2M-47.25 -3.2 L-42.3 -3.2 L-42.3 -4 L-42.71 -4.8 L-43.12 -5.2 L-43.95 -5.6 L-45.18 -5.6 L-46.01 -5.2 L-46.84 -4.4 L-47.25 -3.2 L-47.25 -2.4 L-46.84 -1.2 L-46.01 -0.4 L-45.18 0 L-43.95 0 L-43.12 -0.4 L-42.3 -1.2M-34.87 -5.6 L-34.87 0.8 L-35.28 2 L-35.69 2.4 L-36.52 2.8 L-37.76 2.8 L-38.58 2.4M-34.87 -4.4 L-35.69 -5.2 L-36.52 -5.6 L-37.76 -5.6 L-38.58 -5.2 L-39.41 -4.4 L-39.82 -3.2 L-39.82 -2.4 L-39.41 -1.2 L-38.58 -0.4 L-37.76 0 L-36.52 0 L-35.69 -0.4 L-34.87 -1.2M-31.9 -8.88 L-31.57 -8.56 L-31.24 -8.88 L-31.57 -9.2 L-31.9 -8.88M-31.57 -5.6 L-31.57 0M-28.27 -5.6 L-28.27 0M-28.27 -4 L-27.03 -5.2 L-26.2 -5.6 L-24.96 -5.6 L-24.14 -5.2 L-23.73 -4 L-23.73 0M-20.43 -5.6 L-20.43 0M-20.43 -4 L-19.19 -5.2 L-18.36 -5.6 L-17.12 -5.6 L-16.3 -5.2 L-15.89 -4 L-15.89 0M-12.92 -8.88 L-12.59 -8.56 L-12.26 -8.88 L-12.59 -9.2 L-12.92 -8.88M-12.59 -5.6 L-12.59 0M-9.28 -5.6 L-9.28 0M-9.28 -4 L-8.05 -5.2 L-7.22 -5.6 L-5.98 -5.6 L-5.16 -5.2 L-4.75 -4 L-4.75 0M3.09 -5.6 L3.09 0.8 L2.68 2 L2.27 2.4 L1.44 2.8 L0.21 2.8 L-0.62 2.4M3.09 -4.4 L2.27 -5.2 L1.44 -5.6 L0.21 -5.6 L-0.62 -5.2 L-1.44 -4.4 L-1.86 -3.2 L-1.86 -2.4 L-1.44 -1.2 L-0.62 -0.4 L0.21 0 L1.44 0 L2.27 -0.4 L3.09 -1.2M14.65 -5.6 L13.82 -5.2 L13 -4.4 L12.59 -3.2 L12.59 -2.4 L13 -1.2 L13.82 -0.4 L14.65 0 L15.89 0 L16.71 -0.4 L17.54 -1.2 L17.95 -2.4 L17.95 -3.2 L17.54 -4.4 L16.71 -5.2 L15.89 -5.6 L14.65 -5.6M23.31 -8.4 L22.49 -8.4 L21.66 -8 L21.25 -6.8 L21.25 0M20.01 -5.6 L22.9 -5.6M34.04 -5.6 L33.22 -5.2 L32.39 -4.4 L31.98 -3.2 L31.98 -2.4 L32.39 -1.2 L33.22 -0.4 L34.04 0 L35.28 0 L36.11 -0.4 L36.93 -1.2 L37.34 -2.4 L37.34 -3.2 L36.93 -4.4 L36.11 -5.2 L35.28 -5.6 L34.04 -5.6M40.23 -8.4 L40.23 0M40.23 -4.4 L41.06 -5.2 L41.88 -5.6 L43.12 -5.6 L43.95 -5.2 L44.77 -4.4 L45.18 -3.2 L45.18 -2.4 L44.77 -1.2 L43.95 -0.4 L43.12 0 L41.88 0 L41.06 -0.4 L40.23 -1.2M52.2 -4.4 L51.79 -5.2 L50.55 -5.6 L49.31 -5.6 L48.07 -5.2 L47.66 -4.4 L48.07 -3.6 L48.9 -3.2 L50.96 -2.8 L51.79 -2.4 L52.2 -1.6 L52.2 -1.2 L51.79 -0.4 L50.55 0 L49.31 0 L48.07 -0.4 L47.66 -1.2M54.68 -3.2 L59.63 -3.2 L59.63 -4 L59.21 -4.8 L58.8 -5.2 L57.98 -5.6 L56.74 -5.6 L55.91 -5.2 L55.09 -4.4 L54.68 -3.2 L54.68 -2.4 L55.09 -1.2 L55.91 -0.4 L56.74 0 L57.98 0 L58.8 -0.4 L59.63 -1.2M62.52 -5.6 L62.52 0M62.52 -3.2 L62.93 -4.4 L63.75 -5.2 L64.58 -5.6 L65.82 -5.6M67.05 -5.6 L69.53 0M72.01 -5.6 L69.53 0M79.02 -5.6 L79.02 0M79.02 -4.4 L78.2 -5.2 L77.37 -5.6 L76.13 -5.6 L75.31 -5.2 L74.48 -4.4 L74.07 -3.2 L74.07 -2.4 L74.48 -1.2 L75.31 -0.4 L76.13 0 L77.37 0 L78.2 -0.4 L79.02 -1.2M82.74 -8.4 L82.74 -1.6 L83.15 -0.4 L83.97 0 L84.8 0M81.5 -5.6 L84.39 -5.6M86.94 -8.88 L87.27 -8.56 L87.6 -8.88 L87.27 -9.2 L86.94 -8.88M87.27 -5.6 L87.27 0M92.23 -5.6 L91.4 -5.2 L90.58 -4.4 L90.16 -3.2 L90.16 -2.4 L90.58 -1.2 L91.4 -0.4 L92.23 0 L93.46 0 L94.29 -0.4 L95.11 -1.2 L95.53 -2.4 L95.53 -3.2 L95.11 -4.4 L94.29 -5.2 L93.46 -5.6 L92.23 -5.6M98.42 -5.6 L98.42 0M98.42 -4 L99.65 -5.2 L100.48 -5.6 L101.72 -5.6 L102.54 -5.2 L102.95 -4 L102.95 0M112.86 -10 L112.86 2.8M112.86 -10 L115.75 -10M112.86 2.8 L115.75 2.8M122.76 -4.4 L122.35 -5.2 L121.11 -5.6 L119.87 -5.6 L118.64 -5.2 L118.22 -4.4 L118.64 -3.6 L119.46 -3.2 L121.52 -2.8 L122.35 -2.4 L122.76 -1.6 L122.76 -1.2 L122.35 -0.4 L121.11 0 L119.87 0 L118.64 -0.4 L118.22 -1.2M128.13 -10 L128.13 2.8M125.24 -10 L128.13 -10M125.24 2.8 L128.13 2.8" fill="none" stroke="#000" stroke-width="2.1" stroke-linecap="round" stroke-linejoin="round"/>
<path transform="translate(428.9 19.4)" d="M-8.76 -6.49 L-8.38 -6.75 L-7.26 -7.88 L-7.26 0M-0.49 -7.88 L-1.62 -7.5 L-2.37 -6.38 L-2.74 -4.5 L-2.74 -3.38 L-2.37 -1.5 L-1.62 -0.38 L-0.49 0 L0.26 0 L1.39 -0.38 L2.14 -1.5 L2.52 -3.38 L2.52 -4.5 L2.14 -6.38 L1.39 -7.5 L0.26 -7.88 L-0.49 -7.88M6.68 -8.98 L5.91 -8.74 L5.39 -8.02 L5.13 -6.82 L5.13 -6.1 L5.39 -4.9 L5.91 -4.18 L6.68 -3.94 L7.2 -3.94 L7.98 -4.18 L8.5 -4.9 L8.76 -6.1 L8.76 -6.82 L8.5 -8.02 L7.98 -8.74 L7.2 -8.98 L6.68 -8.98" fill="none" stroke="#000" stroke-width="2" stroke-linecap="round" stroke-linejoin="round"/>
<path transform="translate(470.13 19.4)" d="M-11.35 -6.49 L-10.98 -6.75 L-9.85 -7.88 L-9.85 0M-3.08 -7.88 L-4.21 -7.5 L-4.96 -6.38 L-5.34 -4.5 L-5.34 -3.38 L-4.96 -1.5 L-4.21 -0.38 L-3.08 0 L-2.33 0 L-1.2 -0.38 L-0.45 -1.5 L-0.07 -3.38 L-0.07 -4.5 L-0.45 -6.38 L-1.2 -7.5 L-2.33 -7.88 L-3.08 -7.88M3.05 -6.1 L6.68 -6.1M10.32 -8.09 L10.58 -8.26 L11.35 -8.98 L11.35 -3.94" fill="none" stroke="#000" stroke-width="2" stroke-linecap="round" stroke-linejoin="round"/>
<path transform="translate(511.37 19.4)" d="M-12.13 -6.49 L-11.76 -6.75 L-10.63 -7.88 L-10.63 0M-3.86 -7.88 L-4.99 -7.5 L-5.74 -6.38 L-6.12 -4.5 L-6.12 -3.38 L-5.74 -1.5 L-4.99 -0.38 L-3.86 0 L-3.11 0 L-1.98 -0.38 L-1.23 -1.5 L-0.85 -3.38 L-0.85 -4.5 L-1.23 -6.38 L-1.98 -7.5 L-3.11 -7.88 L-3.86 -7.88M2.27 -6.1 L5.91 -6.1M8.76 -7.78 L8.76 -8.02 L9.02 -8.5 L9.28 -8.74 L9.8 -8.98 L10.83 -8.98 L11.35 -8.74 L11.61 -8.5 L11.87 -8.02 L11.87 -7.54 L11.61 -7.06 L11.09 -6.34 L8.5 -3.94 L12.13 -3.94" fill="none" stroke="#000" stroke-width="2" stroke-linecap="round" stroke-linejoin="round"/>
<path transform="translate(552.6 19.4)" d="M-12.13 -6.49 L-11.76 -6.75 L-10.63 -7.88 L-10.63 0M-3.86 -7.88 L-4.99 -7.5 L-5.74 -6.38 L-6.12 -4.5 L-6.12 -3.38 L-5.74 -1.5 L-4.99 -0.38 L-3.86 0 L-3.11 0 L-1.98 -0.38 L-1.23 -1.5 L-0.85 -3.38 L-0.85 -4.5 L-1.23 -6.38 L-1.98 -7.5 L-3.11 -7.88 L-3.86 -7.88M2.27 -6.1 L5.91 -6.1M9.02 -8.98 L11.87 -8.98 L10.32 -7.06 L11.09 -7.06 L11.61 -6.82 L11.87 -6.58 L12.13 -5.86 L12.13 -5.38 L11.87 -4.66 L11.35 -4.18 L10.58 -3.94 L9.8 -3.94 L9.02 -4.18 L8.76 -4.42 L8.5 -4.9" fill="none" stroke="#000" stroke-width="2" stroke-linecap="round" stroke-linejoin="round"/>
<path transform="translate(593.83 19.4)" d="M-12.26 -6.49 L-11.89 -6.75 L-10.76 -7.88 L-10.76 0M-3.99 -7.88 L-5.12 -7.5 L-5.87 -6.38 L-6.25 -4.5 L-6.25 -3.38 L-5.87 -1.5 L-5.12 -0.38 L-3.99 0 L-3.24 0 L-2.11 -0.38 L-1.36 -1.5 L-0.98 -3.38 L-0.98 -4.5 L-1.36 -6.38 L-2.11 -7.5 L-3.24 -7.88 L-3.99 -7.88M2.14 -6.1 L5.78 -6.1M10.96 -8.98 L8.37 -5.62 L12.26 -5.62M10.96 -8.98 L10.96 -3.94" fill="none" stroke="#000" stroke-width="2" stroke-linecap="round" stroke-linejoin="round"/>
<path transform="translate(635.07 19.4)" d="M-12.13 -6.49 L-11.76 -6.75 L-10.63 -7.88 L-10.63 0M-3.86 -7.88 L-4.99 -7.5 L-5.74 -6.38 L-6.12 -4.5 L-6.12 -3.38 L-5.74 -1.5 L-4.99 -0.38 L-3.86 0 L-3.11 0 L-1.98 -0.38 L-1.23 -1.5 L-0.85 -3.38 L-0.85 -4.5 L-1.23 -6.38 L-1.98 -7.5 L-3.11 -7.88 L-3.86 -7.88M2.27 -6.1 L5.91 -6.1M11.61 -8.98 L9.02 -8.98 L8.76 -6.82 L9.02 -7.06 L9.8 -7.3 L10.58 -7.3 L11.35 -7.06 L11.87 -6.58 L12.13 -5.86 L12.13 -5.38 L11.87 -4.66 L11.35 -4.18 L10.58 -3.94 L9.8 -3.94 L9.02 -4.18 L8.76 -4.42 L8.5 -4.9" fill="none" stroke="#000" stroke-width="2" stroke-linecap="round" stroke-linejoin="round"/>
<path transform="translate(676.3 19.4)" d="M-12.13 -6.49 L-11.76 -6.75 L-10.63 -7.88 L-10.63 0M-3.86 -7.88 L-4.99 -7.5 L-5.74 -6.38 L-6.12 -4.5 L-6.12 -3.38 L-5.74 -1.5 L-4.99 -0.38 L-3.86 0 L-3.11 0 L-1.98 -0.38 L-1.23 -1.5 L-0.85 -3.38 L-0.85 -4.5 L-1.23 -6.38 L-1.98 -7.5 L-3.11 -7.88 L-3.86 -7.88M2.27 -6.1 L5.91 -6.1M11.87 -8.26 L11.61 -8.74 L10.83 -8.98 L10.32 -8.98 L9.54 -8.74 L9.02 -8.02 L8.76 -6.82 L8.76 -5.62 L9.02 -4.66 L9.54 -4.18 L10.32 -3.94 L10.58 -3.94 L11.35 -4.18 L11.87 -4.66 L12.13 -5.38 L12.13 -5.62 L11.87 -6.34 L11.35 -6.82 L10.58 -7.06 L10.32 -7.06 L9.54 -6.82 L9.02 -6.34 L8.76 -5.62" fill="none" stroke="#000" stroke-width="2" stroke-linecap="round" stroke-linejoin="round"/>
<path transform="translate(552.2 7.3)" d="M-22.26 -7.56 L-22.99 -7.56 L-23.71 -7.2 L-24.07 -6.12 L-24.07 0M-25.16 -5.04 L-22.62 -5.04M-20.09 -5.04 L-20.09 0M-20.09 -2.88 L-19.73 -3.96 L-19 -4.68 L-18.28 -5.04 L-17.19 -5.04M-15.75 -2.88 L-11.4 -2.88 L-11.4 -3.6 L-11.76 -4.32 L-12.13 -4.68 L-12.85 -5.04 L-13.94 -5.04 L-14.66 -4.68 L-15.38 -3.96 L-15.75 -2.88 L-15.75 -2.16 L-15.38 -1.08 L-14.66 -0.36 L-13.94 0 L-12.85 0 L-12.13 -0.36 L-11.4 -1.08M-4.89 -5.04 L-4.89 2.52M-4.89 -3.96 L-5.61 -4.68 L-6.33 -5.04 L-7.42 -5.04 L-8.14 -4.68 L-8.87 -3.96 L-9.23 -2.88 L-9.23 -2.16 L-8.87 -1.08 L-8.14 -0.36 L-7.42 0 L-6.33 0 L-5.61 -0.36 L-4.89 -1.08M6.34 -9 L5.61 -8.28 L4.89 -7.2 L4.16 -5.76 L3.8 -3.96 L3.8 -2.52 L4.16 -0.72 L4.89 0.72 L5.61 1.8 L6.34 2.52M8.87 -7.56 L8.87 0M13.94 -7.56 L13.94 0M8.87 -3.96 L13.94 -3.96M20.45 -5.04 L16.47 0M16.47 -5.04 L20.45 -5.04M16.47 0 L20.45 0M22.63 -9 L23.35 -8.28 L24.07 -7.2 L24.8 -5.76 L25.16 -3.96 L25.16 -2.52 L24.8 -0.72 L24.07 0.72 L23.35 1.8 L22.63 2.52" fill="none" stroke="#000" stroke-width="1.9" stroke-linecap="round" stroke-linejoin="round"/>
<path transform="translate(424.4 33.61)" d="M-17.67 -7.09 L-17.26 -7.38 L-16.03 -8.61 L-16.03 0M-10.27 -0.57 L-10.77 -0.08 L-10.27 0.41 L-9.78 -0.08 L-10.27 -0.57M-4.52 -8.61 L-5.75 -8.2 L-6.58 -6.97 L-6.99 -4.92 L-6.99 -3.69 L-6.58 -1.64 L-5.75 -0.41 L-4.52 0 L-3.7 0 L-2.47 -0.41 L-1.64 -1.64 L-1.23 -3.69 L-1.23 -4.92 L-1.64 -6.97 L-2.47 -8.2 L-3.7 -8.61 L-4.52 -8.61" fill="none" stroke="#000" stroke-width="2.1" stroke-linecap="round" stroke-linejoin="round"/>
<path transform="translate(424.4 85.05)" d="M-16.85 -8.61 L-18.08 -8.2 L-18.91 -6.97 L-19.32 -4.92 L-19.32 -3.69 L-18.91 -1.64 L-18.08 -0.41 L-16.85 0 L-16.03 0 L-14.8 -0.41 L-13.97 -1.64 L-13.56 -3.69 L-13.56 -4.92 L-13.97 -6.97 L-14.8 -8.2 L-16.03 -8.61 L-16.85 -8.61M-10.27 -0.57 L-10.77 -0.08 L-10.27 0.41 L-9.78 -0.08 L-10.27 -0.57M-4.93 -8.61 L-6.16 -8.2 L-6.58 -7.38 L-6.58 -6.56 L-6.16 -5.74 L-5.34 -5.33 L-3.7 -4.92 L-2.47 -4.51 L-1.64 -3.69 L-1.23 -2.87 L-1.23 -1.64 L-1.64 -0.82 L-2.05 -0.41 L-3.29 0 L-4.93 0 L-6.16 -0.41 L-6.58 -0.82 L-6.99 -1.64 L-6.99 -2.87 L-6.58 -3.69 L-5.75 -4.51 L-4.52 -4.92 L-2.88 -5.33 L-2.05 -5.74 L-1.64 -6.56 L-1.64 -7.38 L-2.05 -8.2 L-3.29 -8.61 L-4.93 -8.61" fill="none" stroke="#000" stroke-width="2.1" stroke-linecap="round" stroke-linejoin="round"/>
<path transform="translate(424.4 140)" d="M-16.85 -8.61 L-18.08 -8.2 L-18.91 -6.97 L-19.32 -4.92 L-19.32 -3.69 L-18.91 -1.64 L-18.08 -0.41 L-16.85 0 L-16.03 0 L-14.8 -0.41 L-13.97 -1.64 L-13.56 -3.69 L-13.56 -4.92 L-13.97 -6.97 L-14.8 -8.2 L-16.03 -8.61 L-16.85 -8.61M-10.27 -0.57 L-10.77 -0.08 L-10.27 0.41 L-9.78 -0.08 L-10.27 -0.57M-1.64 -7.38 L-2.05 -8.2 L-3.29 -8.61 L-4.11 -8.61 L-5.34 -8.2 L-6.16 -6.97 L-6.58 -4.92 L-6.58 -2.87 L-6.16 -1.23 L-5.34 -0.41 L-4.11 0 L-3.7 0 L-2.47 -0.41 L-1.64 -1.23 L-1.23 -2.46 L-1.23 -2.87 L-1.64 -4.1 L-2.47 -4.92 L-3.7 -5.33 L-4.11 -5.33 L-5.34 -4.92 L-6.16 -4.1 L-6.58 -2.87" fill="none" stroke="#000" stroke-width="2.1" stroke-linecap="round" stroke-linejoin="round"/>
<path transform="translate(424.4 194.95)" d="M-16.85 -8.61 L-18.08 -8.2 L-18.91 -6.97 L-19.32 -4.92 L-19.32 -3.69 L-18.91 -1.64 L-18.08 -0.41 L-16.85 0 L-16.03 0 L-14.8 -0.41 L-13.97 -1.64 L-13.56 -3.69 L-13.56 -4.92 L-13.97 -6.97 L-14.8 -8.2 L-16.03 -8.61 L-16.85 -8.61M-10.27 -0.57 L-10.77 -0.08 L-10.27 0.41 L-9.78 -0.08 L-10.27 -0.57M-2.88 -8.61 L-6.99 -2.87 L-0.82 -2.87M-2.88 -8.61 L-2.88 0" fill="none" stroke="#000" stroke-width="2.1" stroke-linecap="round" stroke-linejoin="round"/>
<path transform="translate(424.4 249.9)" d="M-16.85 -8.61 L-18.08 -8.2 L-18.91 -6.97 L-19.32 -4.92 L-19.32 -3.69 L-18.91 -1.64 L-18.08 -0.41 L-16.85 0 L-16.03 0 L-14.8 -0.41 L-13.97 -1.64 L-13.56 -3.69 L-13.56 -4.92 L-13.97 -6.97 L-14.8 -8.2 L-16.03 -8.61 L-16.85 -8.61M-10.27 -0.57 L-10.77 -0.08 L-10.27 0.41 L-9.78 -0.08 L-10.27 -0.57M-6.58 -6.56 L-6.58 -6.97 L-6.16 -7.79 L-5.75 -8.2 L-4.93 -8.61 L-3.29 -8.61 L-2.47 -8.2 L-2.05 -7.79 L-1.64 -6.97 L-1.64 -6.15 L-2.05 -5.33 L-2.88 -4.1 L-6.99 0 L-1.23 0" fill="none" stroke="#000" stroke-width="2.1" stroke-linecap="round" stroke-linejoin="round"/>
<path transform="translate(391.8 162.8) rotate(-90)" d="M-125.16 -5.53 L-125.16 0M-125.16 -3.16 L-124.74 -4.35 L-123.92 -5.13 L-123.09 -5.53 L-121.85 -5.53M-119.79 -5.53 L-119.79 0M-119.79 -3.95 L-118.55 -5.13 L-117.72 -5.53 L-116.48 -5.53 L-115.66 -5.13 L-115.24 -3.95 L-115.24 0M-115.24 -3.95 L-114 -5.13 L-113.18 -5.53 L-111.94 -5.53 L-111.11 -5.13 L-110.7 -3.95 L-110.7 0M-103.26 -4.35 L-103.68 -5.13 L-104.92 -5.53 L-106.16 -5.53 L-107.39 -5.13 L-107.81 -4.35 L-107.39 -3.56 L-106.57 -3.16 L-104.5 -2.77 L-103.68 -2.37 L-103.26 -1.58 L-103.26 -1.19 L-103.68 -0.4 L-104.92 0 L-106.16 0 L-107.39 -0.4 L-107.81 -1.19M-94.59 -5.53 L-92.11 0M-89.63 -5.53 L-92.11 0M-82.61 -5.53 L-82.61 0M-82.61 -4.35 L-83.44 -5.13 L-84.26 -5.53 L-85.5 -5.53 L-86.33 -5.13 L-87.15 -4.35 L-87.57 -3.16 L-87.57 -2.37 L-87.15 -1.19 L-86.33 -0.4 L-85.5 0 L-84.26 0 L-83.44 -0.4 L-82.61 -1.19M-79.31 -5.53 L-79.31 0M-79.31 -3.16 L-78.89 -4.35 L-78.07 -5.13 L-77.24 -5.53 L-76 -5.53M-74.27 -8.77 L-73.94 -8.45 L-73.61 -8.77 L-73.94 -9.09 L-74.27 -8.77M-73.94 -5.53 L-73.94 0M-66.09 -5.53 L-66.09 0M-66.09 -4.35 L-66.91 -5.13 L-67.74 -5.53 L-68.98 -5.53 L-69.81 -5.13 L-70.63 -4.35 L-71.05 -3.16 L-71.05 -2.37 L-70.63 -1.19 L-69.81 -0.4 L-68.98 0 L-67.74 0 L-66.91 -0.4 L-66.09 -1.19M-62.78 -8.29 L-62.78 0M-62.78 -4.35 L-61.96 -5.13 L-61.13 -5.53 L-59.89 -5.53 L-59.07 -5.13 L-58.24 -4.35 L-57.83 -3.16 L-57.83 -2.37 L-58.24 -1.19 L-59.07 -0.4 L-59.89 0 L-61.13 0 L-61.96 -0.4 L-62.78 -1.19M-55.27 -8.77 L-54.94 -8.45 L-54.61 -8.77 L-54.94 -9.09 L-55.27 -8.77M-54.94 -5.53 L-54.94 0M-51.63 -8.29 L-51.63 0M-48.66 -8.77 L-48.33 -8.45 L-48 -8.77 L-48.33 -9.09 L-48.66 -8.77M-48.33 -5.53 L-48.33 0M-44.61 -8.29 L-44.61 -1.58 L-44.2 -0.4 L-43.37 0 L-42.54 0M-45.85 -5.53 L-42.96 -5.53M-40.89 -5.53 L-38.41 0M-35.94 -5.53 L-38.41 0 L-39.24 1.58 L-40.07 2.37 L-40.89 2.77 L-41.31 2.77M-25.2 -5.53 L-26.02 -5.13 L-26.85 -4.35 L-27.26 -3.16 L-27.26 -2.37 L-26.85 -1.19 L-26.02 -0.4 L-25.2 0 L-23.96 0 L-23.13 -0.4 L-22.3 -1.19 L-21.89 -2.37 L-21.89 -3.16 L-22.3 -4.35 L-23.13 -5.13 L-23.96 -5.53 L-25.2 -5.53M-19.83 -5.53 L-17.35 0M-14.87 -5.53 L-17.35 0M-12.8 -3.16 L-7.85 -3.16 L-7.85 -3.95 L-8.26 -4.74 L-8.67 -5.13 L-9.5 -5.53 L-10.74 -5.53 L-11.57 -5.13 L-12.39 -4.35 L-12.8 -3.16 L-12.8 -2.37 L-12.39 -1.19 L-11.57 -0.4 L-10.74 0 L-9.5 0 L-8.67 -0.4 L-7.85 -1.19M-4.96 -5.53 L-4.96 0M-4.96 -3.16 L-4.54 -4.35 L-3.72 -5.13 L-2.89 -5.53 L-1.65 -5.53M11.15 -4.35 L10.74 -5.13 L9.5 -5.53 L8.26 -5.53 L7.02 -5.13 L6.61 -4.35 L7.02 -3.56 L7.85 -3.16 L9.91 -2.77 L10.74 -2.37 L11.15 -1.58 L11.15 -1.19 L10.74 -0.4 L9.5 0 L8.26 0 L7.02 -0.4 L6.61 -1.19M18.59 -5.53 L18.59 0M18.59 -4.35 L17.76 -5.13 L16.94 -5.53 L15.7 -5.53 L14.87 -5.13 L14.04 -4.35 L13.63 -3.16 L13.63 -2.37 L14.04 -1.19 L14.87 -0.4 L15.7 0 L16.94 0 L17.76 -0.4 L18.59 -1.19M21.89 -5.53 L21.89 0M21.89 -3.95 L23.13 -5.13 L23.96 -5.53 L25.2 -5.53 L26.02 -5.13 L26.44 -3.95 L26.44 0M26.44 -3.95 L27.67 -5.13 L28.5 -5.53 L29.74 -5.53 L30.57 -5.13 L30.98 -3.95 L30.98 0M34.28 -5.53 L34.28 2.77M34.28 -4.35 L35.11 -5.13 L35.94 -5.53 L37.17 -5.53 L38 -5.13 L38.83 -4.35 L39.24 -3.16 L39.24 -2.37 L38.83 -1.19 L38 -0.4 L37.17 0 L35.94 0 L35.11 -0.4 L34.28 -1.19M42.13 -8.29 L42.13 0M45.02 -3.16 L49.98 -3.16 L49.98 -3.95 L49.57 -4.74 L49.15 -5.13 L48.33 -5.53 L47.09 -5.53 L46.26 -5.13 L45.44 -4.35 L45.02 -3.16 L45.02 -2.37 L45.44 -1.19 L46.26 -0.4 L47.09 0 L48.33 0 L49.15 -0.4 L49.98 -1.19M57.41 -8.29 L57.41 0M57.41 -4.35 L56.59 -5.13 L55.76 -5.53 L54.52 -5.53 L53.7 -5.13 L52.87 -4.35 L52.46 -3.16 L52.46 -2.37 L52.87 -1.19 L53.7 -0.4 L54.52 0 L55.76 0 L56.59 -0.4 L57.41 -1.19M67.74 -8.29 L67.74 -1.58 L68.15 -0.4 L68.98 0 L69.81 0M66.5 -5.53 L69.39 -5.53M71.95 -8.77 L72.28 -8.45 L72.62 -8.77 L72.28 -9.09 L71.95 -8.77M72.28 -5.53 L72.28 0M75.59 -5.53 L75.59 0M75.59 -3.95 L76.83 -5.13 L77.65 -5.53 L78.89 -5.53 L79.72 -5.13 L80.13 -3.95 L80.13 0M80.13 -3.95 L81.37 -5.13 L82.2 -5.53 L83.44 -5.53 L84.26 -5.13 L84.68 -3.95 L84.68 0M87.57 -3.16 L92.52 -3.16 L92.52 -3.95 L92.11 -4.74 L91.7 -5.13 L90.87 -5.53 L89.63 -5.53 L88.81 -5.13 L87.98 -4.35 L87.57 -3.16 L87.57 -2.37 L87.98 -1.19 L88.81 -0.4 L89.63 0 L90.87 0 L91.7 -0.4 L92.52 -1.19M99.55 -4.35 L99.13 -5.13 L97.89 -5.53 L96.65 -5.53 L95.42 -5.13 L95 -4.35 L95.42 -3.56 L96.24 -3.16 L98.31 -2.77 L99.13 -2.37 L99.55 -1.58 L99.55 -1.19 L99.13 -0.4 L97.89 0 L96.65 0 L95.42 -0.4 L95 -1.19M106.98 -4.35 L106.16 -5.13 L105.33 -5.53 L104.09 -5.53 L103.26 -5.13 L102.44 -4.35 L102.02 -3.16 L102.02 -2.37 L102.44 -1.19 L103.26 -0.4 L104.09 0 L105.33 0 L106.16 -0.4 L106.98 -1.19M114.42 -5.53 L114.42 0M114.42 -4.35 L113.59 -5.13 L112.76 -5.53 L111.52 -5.53 L110.7 -5.13 L109.87 -4.35 L109.46 -3.16 L109.46 -2.37 L109.87 -1.19 L110.7 -0.4 L111.52 0 L112.76 0 L113.59 -0.4 L114.42 -1.19M117.72 -8.29 L117.72 0M120.61 -3.16 L125.57 -3.16 L125.57 -3.95 L125.16 -4.74 L124.74 -5.13 L123.92 -5.53 L122.68 -5.53 L121.85 -5.13 L121.03 -4.35 L120.61 -3.16 L120.61 -2.37 L121.03 -1.19 L121.85 -0.4 L122.68 0 L123.92 0 L124.74 -0.4 L125.57 -1.19" fill="none" stroke="#000" stroke-width="2.1" stroke-linecap="round" stroke-linejoin="round"/>
<rect x="78.9" y="375" width="247.4" height="274.4" fill="none" stroke="#000" stroke-width="2.3"/>
<path d="M78.9 649.4L78.9 643.9M78.9 375L78.9 380.5M91.96 649.4L91.96 646.7M91.96 375L91.96 377.7M99.59 649.4L99.59 646.7M99.59 375L99.59 377.7M105.01 649.4L105.01 646.7M105.01 375L105.01 377.7M109.21 649.4L109.21 646.7M109.21 375L109.21 377.7M112.65 649.4L112.65 646.7M112.65 375L112.65 377.7M115.55 649.4L115.55 646.7M115.55 375L115.55 377.7M118.07 649.4L118.07 646.7M118.07 375L118.07 377.7M120.29 649.4L120.29 646.7M120.29 375L120.29 377.7M122.27 649.4L122.27 643.9M122.27 375L122.27 380.5M135.33 649.4L135.33 646.7M135.33 375L135.33 377.7M142.96 649.4L142.96 646.7M142.96 375L142.96 377.7M148.38 649.4L148.38 646.7M148.38 375L148.38 377.7M152.58 649.4L152.58 646.7M152.58 375L152.58 377.7M156.02 649.4L156.02 646.7M156.02 375L156.02 377.7M158.92 649.4L158.92 646.7M158.92 375L158.92 377.7M161.44 649.4L161.44 646.7M161.44 375L161.44 377.7M163.66 649.4L163.66 646.7M163.66 375L163.66 377.7M165.64 649.4L165.64 643.9M165.64 375L165.64 380.5M178.7 649.4L178.7 646.7M178.7 375L178.7 377.7M186.33 649.4L186.33 646.7M186.33 375L186.33 377.7M191.75 649.4L191.75 646.7M191.75 375L191.75 377.7M195.95 649.4L195.95 646.7M195.95 375L195.95 377.7M199.39 649.4L199.39 646.7M199.39 375L199.39 377.7M202.29 649.4L202.29 646.7M202.29 375L202.29 377.7M204.81 649.4L204.81 646.7M204.81 375L204.81 377.7M207.03 649.4L207.03 646.7M207.03 375L207.03 377.7M209.01 649.4L209.01 643.9M209.01 375L209.01 380.5M222.07 649.4L222.07 646.7M222.07 375L222.07 377.7M229.7 649.4L229.7 646.7M229.7 375L229.7 377.7M235.12 649.4L235.12 646.7M235.12 375L235.12 377.7M239.32 649.4L239.32 646.7M239.32 375L239.32 377.7M242.76 649.4L242.76 646.7M242.76 375L242.76 377.7M245.66 649.4L245.66 646.7M245.66 375L245.66 377.7M248.18 649.4L248.18 646.7M248.18 375L248.18 377.7M250.4 649.4L250.4 646.7M250.4 375L250.4 377.7M252.38 649.4L252.38 643.9M252.38 375L252.38 380.5M265.44 649.4L265.44 646.7M265.44 375L265.44 377.7M273.07 649.4L273.07 646.7M273.07 375L273.07 377.7M278.49 649.4L278.49 646.7M278.49 375L278.49 377.7M282.69 649.4L282.69 646.7M282.69 375L282.69 377.7M286.13 649.4L286.13 646.7M286.13 375L286.13 377.7M289.03 649.4L289.03 646.7M289.03 375L289.03 377.7M291.55 649.4L291.55 646.7M291.55 375L291.55 377.7M293.77 649.4L293.77 646.7M293.77 375L293.77 377.7M295.75 649.4L295.75 643.9M295.75 375L295.75 380.5M308.81 649.4L308.81 646.7M308.81 375L308.81 377.7M316.44 649.4L316.44 646.7M316.44 375L316.44 377.7M321.86 649.4L321.86 646.7M321.86 375L321.86 377.7M326.06 649.4L326.06 646.7M326.06 375L326.06 377.7M78.9 649.4L81.4 649.4M326.3 649.4L323.8 649.4M78.9 624.49L83.9 624.49M326.3 624.49L321.3 624.49M78.9 599.58L81.4 599.58M326.3 599.58L323.8 599.58M78.9 574.67L83.9 574.67M326.3 574.67L321.3 574.67M78.9 549.76L81.4 549.76M326.3 549.76L323.8 549.76M78.9 524.85L83.9 524.85M326.3 524.85L321.3 524.85M78.9 499.95L81.4 499.95M326.3 499.95L323.8 499.95M78.9 475.04L83.9 475.04M326.3 475.04L321.3 475.04M78.9 450.13L81.4 450.13M326.3 450.13L323.8 450.13M78.9 425.22L83.9 425.22M326.3 425.22L321.3 425.22M78.9 400.31L81.4 400.31M326.3 400.31L323.8 400.31M78.9 375.4L83.9 375.4M326.3 375.4L321.3 375.4" stroke="#000" stroke-width="2" fill="none"/>
<g>
<polyline points="164,375 164.3,432 166.5,432 168.7,430.3 171,433.5 173.3,437.1 173,451.38 177.34,451.38 177.34,455.15 181.67,457.59 181.67,461.74 186.01,463.55 186.01,469.18 190.35,470.67 190.35,475.58 194.69,478.17 194.69,481.82 199.02,484.57 199.02,487.9 203.36,490.54 203.36,493.68 207.7,496.17 207.7,499.16 212.03,501.65 212.03,504.72 216.37,507.19 216.37,510.14 220.71,512.53 220.71,515.38 222.07,516.06" fill="none" stroke="#00c800" stroke-width="5.9" stroke-linejoin="bevel" stroke-linecap="butt"/>
<polyline points="164,375 164.3,432 166.5,432 168.7,430.3 171,433.5 173.3,437.1 173,451.38 177.34,451.38 177.34,455.15 181.67,457.59 181.67,461.74 186.01,463.55 186.01,469.18 190.35,470.67 190.35,475.58 194.69,478.17 194.69,481.82 199.02,484.57 199.02,487.9 203.36,490.54 203.36,493.68 207.7,496.17 207.7,499.16 212.03,501.65 212.03,504.72 216.37,507.19 216.37,510.14 220.71,512.53 220.71,515.38 225.04,517.54 225.04,520.05 229.38,522.1 229.38,524.52 233.72,526.42 233.72,528.7 238.05,530.57 238.06,532.78 242.39,534.45 242.39,536.4 246.73,537.99 246.73,539.89 251.07,541.34 251.07,543.05 255.4,544.45 255.4,546.15 257.32,546.74" fill="none" stroke="#00c8c8" stroke-width="4.2" stroke-linejoin="bevel" stroke-linecap="butt"/>
<polyline points="164,375 164.3,432 166.5,432 168.7,430.3 171,433.5 173.3,437.1 173,451.38 177.34,451.38 177.34,454.62 181.67,458.15 181.67,461.74 186.01,463.55 186.01,469.18 190.35,470.67 190.35,475.58 194.69,478.17 194.69,481.7 199.02,484.69 199.02,487.61 203.36,490.81 203.36,493.18 207.7,496.64 207.7,498.68 212.03,502.14 212.03,504.21 216.37,507.69 216.37,509.54 220.71,513.13 220.71,514.51 225.04,518.32 225.04,519.14 229.38,523.01 229.38,523.5 233.72,527.41 233.72,527.68 238.05,531.59 238.06,531.71 242.39,535.42 242.39,535.42 246.73,538.96 246.73,538.96 251.07,542.19 251.07,542.19 255.4,545.3 255.4,545.3 257.32,546.6 286.4,565.4 321.1,586.9 322,587.6" fill="none" stroke="#6464ff" stroke-width="2.6" stroke-linejoin="round" stroke-linecap="butt"/>
<polyline points="122,375.5 127,374.9" fill="none" stroke="#00c800" stroke-width="5.9" stroke-linejoin="bevel" stroke-linecap="butt"/>
<polyline points="122,375.5 127,374.9" fill="none" stroke="#00c8c8" stroke-width="4.2" stroke-linejoin="bevel" stroke-linecap="butt"/>
<polyline points="122,375.5 127,374.9" fill="none" stroke="#6464ff" stroke-width="2.6" stroke-linejoin="bevel" stroke-linecap="butt"/>
<polyline points="142.1,375 142.9,375" fill="none" stroke="#00c800" stroke-width="5.9" stroke-linejoin="bevel" stroke-linecap="butt"/>
<polyline points="142.1,375 142.9,375" fill="none" stroke="#00c8c8" stroke-width="4.2" stroke-linejoin="bevel" stroke-linecap="butt"/>
<polyline points="142.1,375 142.9,375" fill="none" stroke="#6464ff" stroke-width="2.6" stroke-linejoin="bevel" stroke-linecap="butt"/>
<polyline points="151.2,375.8 153.5,374.8 156.6,375.6" fill="none" stroke="#00c800" stroke-width="5.9" stroke-linejoin="bevel" stroke-linecap="butt"/>
<polyline points="151.2,375.8 153.5,374.8 156.6,375.6" fill="none" stroke="#00c8c8" stroke-width="4.2" stroke-linejoin="bevel" stroke-linecap="butt"/>
<polyline points="151.2,375.8 153.5,374.8 156.6,375.6" fill="none" stroke="#6464ff" stroke-width="2.6" stroke-linejoin="bevel" stroke-linecap="butt"/>
<line x1="222.07" y1="375.1" x2="222.07" y2="649.9" stroke="#00c800" stroke-width="3.9" stroke-dasharray="7.86 7.86" stroke-dashoffset="0.4"/>
<line x1="257.32" y1="375.1" x2="257.32" y2="649.9" stroke="#00c8c8" stroke-width="3.9" stroke-dasharray="7.86 7.86" stroke-dashoffset="0.4"/>
<line x1="322.28" y1="375.1" x2="322.28" y2="649.9" stroke="#6464ff" stroke-width="3.9" stroke-dasharray="7.86 7.86" stroke-dashoffset="0.4"/>
</g>
<rect x="91.5" y="556.5" width="108" height="73" fill="none" stroke="#7c7c7c" stroke-width="1"/>
<path transform="translate(110.9 576.9)" d="M1.38 -12.71 L4.82 0M8.27 -12.71 L4.82 0M8.27 -12.71 L11.71 0M15.16 -12.71 L11.71 0M18.74 -13.43 L19.29 -12.95 L19.84 -13.43 L19.29 -13.91 L18.74 -13.43M19.29 -8.47 L19.29 0M32.38 -12.71 L32.38 0M32.38 -6.65 L31 -7.87 L29.63 -8.47 L27.56 -8.47 L26.18 -7.87 L24.8 -6.65 L24.11 -4.84 L24.11 -3.63 L24.8 -1.81 L26.18 -0.6 L27.56 0 L29.63 0 L31 -0.6 L32.38 -1.81M37.21 -4.84 L45.47 -4.84 L45.47 -6.05 L44.78 -7.26 L44.1 -7.87 L42.72 -8.47 L40.65 -8.47 L39.27 -7.87 L37.89 -6.65 L37.21 -4.84 L37.21 -3.63 L37.89 -1.81 L39.27 -0.6 L40.65 0 L42.72 0 L44.1 -0.6 L45.47 -1.81" fill="none" stroke="#00c800" stroke-width="2" stroke-linecap="round" stroke-linejoin="round"/>
<path transform="translate(110.9 597.5)" d="M2.76 -12.71 L2.76 0M2.76 -12.71 L8.27 0M13.78 -12.71 L8.27 0M13.78 -12.71 L13.78 0M18.6 -4.84 L26.87 -4.84 L26.87 -6.05 L26.18 -7.26 L25.49 -7.87 L24.11 -8.47 L22.05 -8.47 L20.67 -7.87 L19.29 -6.65 L18.6 -4.84 L18.6 -3.63 L19.29 -1.81 L20.67 -0.6 L22.05 0 L24.11 0 L25.49 -0.6 L26.87 -1.81M39.27 -12.71 L39.27 0M39.27 -6.65 L37.89 -7.87 L36.52 -8.47 L34.45 -8.47 L33.07 -7.87 L31.69 -6.65 L31 -4.84 L31 -3.63 L31.69 -1.81 L33.07 -0.6 L34.45 0 L36.52 0 L37.89 -0.6 L39.27 -1.81M44.23 -13.43 L44.78 -12.95 L45.34 -13.43 L44.78 -13.91 L44.23 -13.43M44.78 -8.47 L44.78 0M50.3 -8.47 L50.3 -2.42 L50.99 -0.6 L52.36 0 L54.43 0 L55.81 -0.6 L57.88 -2.42M57.88 -8.47 L57.88 0M63.39 -8.47 L63.39 0M63.39 -6.05 L65.45 -7.87 L66.83 -8.47 L68.9 -8.47 L70.28 -7.87 L70.97 -6.05 L70.97 0M70.97 -6.05 L73.03 -7.87 L74.41 -8.47 L76.48 -8.47 L77.86 -7.87 L78.55 -6.05 L78.55 0" fill="none" stroke="#00c8c8" stroke-width="2" stroke-linecap="round" stroke-linejoin="round"/>
<path transform="translate(110.9 618)" d="M2.76 -12.71 L2.76 0M2.76 -12.71 L7.58 -12.71 L9.65 -12.1 L11.02 -10.89 L11.71 -9.68 L12.4 -7.87 L12.4 -4.84 L11.71 -3.02 L11.02 -1.81 L9.65 -0.6 L7.58 0 L2.76 0M16.54 -4.84 L24.8 -4.84 L24.8 -6.05 L24.11 -7.26 L23.43 -7.87 L22.05 -8.47 L19.98 -8.47 L18.6 -7.87 L17.22 -6.65 L16.54 -4.84 L16.54 -3.63 L17.22 -1.81 L18.6 -0.6 L19.98 0 L22.05 0 L23.43 -0.6 L24.8 -1.81M28.94 -4.84 L37.21 -4.84 L37.21 -6.05 L36.52 -7.26 L35.83 -7.87 L34.45 -8.47 L32.38 -8.47 L31 -7.87 L29.63 -6.65 L28.94 -4.84 L28.94 -3.63 L29.63 -1.81 L31 -0.6 L32.38 0 L34.45 0 L35.83 -0.6 L37.21 -1.81M42.03 -8.47 L42.03 4.23M42.03 -6.65 L43.41 -7.87 L44.78 -8.47 L46.85 -8.47 L48.23 -7.87 L49.61 -6.65 L50.3 -4.84 L50.3 -3.63 L49.61 -1.81 L48.23 -0.6 L46.85 0 L44.78 0 L43.41 -0.6 L42.03 -1.81" fill="none" stroke="#6464ff" stroke-width="2" stroke-linecap="round" stroke-linejoin="round"/>
<path transform="translate(78.9 669)" d="M-9.54 -7.09 L-9.13 -7.38 L-7.9 -8.61 L-7.9 0M-0.5 -8.61 L-1.73 -8.2 L-2.56 -6.97 L-2.97 -4.92 L-2.97 -3.69 L-2.56 -1.64 L-1.73 -0.41 L-0.5 0 L0.32 0 L1.55 -0.41 L2.38 -1.64 L2.79 -3.69 L2.79 -4.92 L2.38 -6.97 L1.55 -8.2 L0.32 -8.61 L-0.5 -8.61M7.27 -9.82 L6.42 -9.55 L5.86 -8.77 L5.57 -7.45 L5.57 -6.67 L5.86 -5.35 L6.42 -4.57 L7.27 -4.3 L7.84 -4.3 L8.69 -4.57 L9.26 -5.35 L9.54 -6.67 L9.54 -7.45 L9.26 -8.77 L8.69 -9.55 L7.84 -9.82 L7.27 -9.82" fill="none" stroke="#000" stroke-width="2.1" stroke-linecap="round" stroke-linejoin="round"/>
<path transform="translate(122.27 669)" d="M-8.69 -7.09 L-8.28 -7.38 L-7.05 -8.61 L-7.05 0M0.35 -8.61 L-0.88 -8.2 L-1.7 -6.97 L-2.12 -4.92 L-2.12 -3.69 L-1.7 -1.64 L-0.88 -0.41 L0.35 0 L1.17 0 L2.41 -0.41 L3.23 -1.64 L3.64 -3.69 L3.64 -4.92 L3.23 -6.97 L2.41 -8.2 L1.17 -8.61 L0.35 -8.61M7.56 -8.84 L7.84 -9.03 L8.69 -9.82 L8.69 -4.3" fill="none" stroke="#000" stroke-width="2.1" stroke-linecap="round" stroke-linejoin="round"/>
<path transform="translate(165.64 669)" d="M-9.54 -7.09 L-9.13 -7.38 L-7.9 -8.61 L-7.9 0M-0.5 -8.61 L-1.73 -8.2 L-2.56 -6.97 L-2.97 -4.92 L-2.97 -3.69 L-2.56 -1.64 L-1.73 -0.41 L-0.5 0 L0.32 0 L1.55 -0.41 L2.38 -1.64 L2.79 -3.69 L2.79 -4.92 L2.38 -6.97 L1.55 -8.2 L0.32 -8.61 L-0.5 -8.61M5.86 -8.5 L5.86 -8.77 L6.14 -9.29 L6.42 -9.55 L6.99 -9.82 L8.12 -9.82 L8.69 -9.55 L8.97 -9.29 L9.26 -8.77 L9.26 -8.24 L8.97 -7.72 L8.41 -6.93 L5.57 -4.3 L9.54 -4.3" fill="none" stroke="#000" stroke-width="2.1" stroke-linecap="round" stroke-linejoin="round"/>
<path transform="translate(209.01 669)" d="M-9.54 -7.09 L-9.13 -7.38 L-7.9 -8.61 L-7.9 0M-0.5 -8.61 L-1.73 -8.2 L-2.56 -6.97 L-2.97 -4.92 L-2.97 -3.69 L-2.56 -1.64 L-1.73 -0.41 L-0.5 0 L0.32 0 L1.55 -0.41 L2.38 -1.64 L2.79 -3.69 L2.79 -4.92 L2.38 -6.97 L1.55 -8.2 L0.32 -8.61 L-0.5 -8.61M6.14 -9.82 L9.26 -9.82 L7.56 -7.72 L8.41 -7.72 L8.97 -7.45 L9.26 -7.19 L9.54 -6.4 L9.54 -5.88 L9.26 -5.09 L8.69 -4.57 L7.84 -4.3 L6.99 -4.3 L6.14 -4.57 L5.86 -4.83 L5.57 -5.35" fill="none" stroke="#000" stroke-width="2.1" stroke-linecap="round" stroke-linejoin="round"/>
<path transform="translate(252.38 669)" d="M-9.68 -7.09 L-9.27 -7.38 L-8.04 -8.61 L-8.04 0M-0.64 -8.61 L-1.87 -8.2 L-2.7 -6.97 L-3.11 -4.92 L-3.11 -3.69 L-2.7 -1.64 L-1.87 -0.41 L-0.64 0 L0.18 0 L1.41 -0.41 L2.24 -1.64 L2.65 -3.69 L2.65 -4.92 L2.24 -6.97 L1.41 -8.2 L0.18 -8.61 L-0.64 -8.61M8.27 -9.82 L5.43 -6.14 L9.68 -6.14M8.27 -9.82 L8.27 -4.3" fill="none" stroke="#000" stroke-width="2.1" stroke-linecap="round" stroke-linejoin="round"/>
<path transform="translate(295.75 669)" d="M-9.54 -7.09 L-9.13 -7.38 L-7.9 -8.61 L-7.9 0M-0.5 -8.61 L-1.73 -8.2 L-2.56 -6.97 L-2.97 -4.92 L-2.97 -3.69 L-2.56 -1.64 L-1.73 -0.41 L-0.5 0 L0.32 0 L1.55 -0.41 L2.38 -1.64 L2.79 -3.69 L2.79 -4.92 L2.38 -6.97 L1.55 -8.2 L0.32 -8.61 L-0.5 -8.61M8.97 -9.82 L6.14 -9.82 L5.86 -7.45 L6.14 -7.72 L6.99 -7.98 L7.84 -7.98 L8.69 -7.72 L9.26 -7.19 L9.54 -6.4 L9.54 -5.88 L9.26 -5.09 L8.69 -4.57 L7.84 -4.3 L6.99 -4.3 L6.14 -4.57 L5.86 -4.83 L5.57 -5.35" fill="none" stroke="#000" stroke-width="2.1" stroke-linecap="round" stroke-linejoin="round"/>
<path transform="translate(202.3 684.2)" d="M-126.48 -8.4 L-126.48 0M-128.37 -8.4 L-124.58 -8.4M-121.85 -8.88 L-121.52 -8.56 L-121.19 -8.88 L-121.52 -9.2 L-121.85 -8.88M-121.52 -5.6 L-121.52 0M-118.22 -5.6 L-118.22 0M-118.22 -4 L-116.98 -5.2 L-116.16 -5.6 L-114.92 -5.6 L-114.1 -5.2 L-113.68 -4 L-113.68 0M-113.68 -4 L-112.45 -5.2 L-111.62 -5.6 L-110.38 -5.6 L-109.56 -5.2 L-109.14 -4 L-109.14 0M-106.26 -3.2 L-101.3 -3.2 L-101.3 -4 L-101.72 -4.8 L-102.13 -5.2 L-102.95 -5.6 L-104.19 -5.6 L-105.02 -5.2 L-105.84 -4.4 L-106.26 -3.2 L-106.26 -2.4 L-105.84 -1.2 L-105.02 -0.4 L-104.19 0 L-102.95 0 L-102.13 -0.4 L-101.3 -1.2M-89.34 -8.4 L-90.16 -8.4 L-90.99 -8 L-91.4 -6.8 L-91.4 0M-92.64 -5.6 L-89.75 -5.6M-86.86 -5.6 L-86.86 0M-86.86 -3.2 L-86.45 -4.4 L-85.62 -5.2 L-84.8 -5.6 L-83.56 -5.6M-79.85 -5.6 L-80.67 -5.2 L-81.5 -4.4 L-81.91 -3.2 L-81.91 -2.4 L-81.5 -1.2 L-80.67 -0.4 L-79.85 0 L-78.61 0 L-77.78 -0.4 L-76.96 -1.2 L-76.55 -2.4 L-76.55 -3.2 L-76.96 -4.4 L-77.78 -5.2 L-78.61 -5.6 L-79.85 -5.6M-73.66 -5.6 L-73.66 0M-73.66 -4 L-72.42 -5.2 L-71.59 -5.6 L-70.36 -5.6 L-69.53 -5.2 L-69.12 -4 L-69.12 0M-69.12 -4 L-67.88 -5.2 L-67.05 -5.6 L-65.82 -5.6 L-64.99 -5.2 L-64.58 -4 L-64.58 0M-54.68 -8.4 L-54.68 0M-54.68 -4.4 L-53.85 -5.2 L-53.02 -5.6 L-51.79 -5.6 L-50.96 -5.2 L-50.14 -4.4 L-49.72 -3.2 L-49.72 -2.4 L-50.14 -1.2 L-50.96 -0.4 L-51.79 0 L-53.02 0 L-53.85 -0.4 L-54.68 -1.2M-47.25 -3.2 L-42.3 -3.2 L-42.3 -4 L-42.71 -4.8 L-43.12 -5.2 L-43.95 -5.6 L-45.18 -5.6 L-46.01 -5.2 L-46.84 -4.4 L-47.25 -3.2 L-47.25 -2.4 L-46.84 -1.2 L-46.01 -0.4 L-45.18 0 L-43.95 0 L-43.12 -0.4 L-42.3 -1.2M-34.87 -5.6 L-34.87 0.8 L-35.28 2 L-35.69 2.4 L-36.52 2.8 L-37.76 2.8 L-38.58 2.4M-34.87 -4.4 L-35.69 -5.2 L-36.52 -5.6 L-37.76 -5.6 L-38.58 -5.2 L-39.41 -4.4 L-39.82 -3.2 L-39.82 -2.4 L-39.41 -1.2 L-38.58 -0.4 L-37.76 0 L-36.52 0 L-35.69 -0.4 L-34.87 -1.2M-31.9 -8.88 L-31.57 -8.56 L-31.24 -8.88 L-31.57 -9.2 L-31.9 -8.88M-31.57 -5.6 L-31.57 0M-28.27 -5.6 L-28.27 0M-28.27 -4 L-27.03 -5.2 L-26.2 -5.6 L-24.96 -5.6 L-24.14 -5.2 L-23.73 -4 L-23.73 0M-20.43 -5.6 L-20.43 0M-20.43 -4 L-19.19 -5.2 L-18.36 -5.6 L-17.12 -5.6 L-16.3 -5.2 L-15.89 -4 L-15.89 0M-12.92 -8.88 L-12.59 -8.56 L-12.26 -8.88 L-12.59 -9.2 L-12.92 -8.88M-12.59 -5.6 L-12.59 0M-9.28 -5.6 L-9.28 0M-9.28 -4 L-8.05 -5.2 L-7.22 -5.6 L-5.98 -5.6 L-5.16 -5.2 L-4.75 -4 L-4.75 0M3.09 -5.6 L3.09 0.8 L2.68 2 L2.27 2.4 L1.44 2.8 L0.21 2.8 L-0.62 2.4M3.09 -4.4 L2.27 -5.2 L1.44 -5.6 L0.21 -5.6 L-0.62 -5.2 L-1.44 -4.4 L-1.86 -3.2 L-1.86 -2.4 L-1.44 -1.2 L-0.62 -0.4 L0.21 0 L1.44 0 L2.27 -0.4 L3.09 -1.2M14.65 -5.6 L13.82 -5.2 L13 -4.4 L12.59 -3.2 L12.59 -2.4 L13 -1.2 L13.82 -0.4 L14.65 0 L15.89 0 L16.71 -0.4 L17.54 -1.2 L17.95 -2.4 L17.95 -3.2 L17.54 -4.4 L16.71 -5.2 L15.89 -5.6 L14.65 -5.6M23.31 -8.4 L22.49 -8.4 L21.66 -8 L21.25 -6.8 L21.25 0M20.01 -5.6 L22.9 -5.6M34.04 -5.6 L33.22 -5.2 L32.39 -4.4 L31.98 -3.2 L31.98 -2.4 L32.39 -1.2 L33.22 -0.4 L34.04 0 L35.28 0 L36.11 -0.4 L36.93 -1.2 L37.34 -2.4 L37.34 -3.2 L36.93 -4.4 L36.11 -5.2 L35.28 -5.6 L34.04 -5.6M40.23 -8.4 L40.23 0M40.23 -4.4 L41.06 -5.2 L41.88 -5.6 L43.12 -5.6 L43.95 -5.2 L44.77 -4.4 L45.18 -3.2 L45.18 -2.4 L44.77 -1.2 L43.95 -0.4 L43.12 0 L41.88 0 L41.06 -0.4 L40.23 -1.2M52.2 -4.4 L51.79 -5.2 L50.55 -5.6 L49.31 -5.6 L48.07 -5.2 L47.66 -4.4 L48.07 -3.6 L48.9 -3.2 L50.96 -2.8 L51.79 -2.4 L52.2 -1.6 L52.2 -1.2 L51.79 -0.4 L50.55 0 L49.31 0 L48.07 -0.4 L47.66 -1.2M54.68 -3.2 L59.63 -3.2 L59.63 -4 L59.21 -4.8 L58.8 -5.2 L57.98 -5.6 L56.74 -5.6 L55.91 -5.2 L55.09 -4.4 L54.68 -3.2 L54.68 -2.4 L55.09 -1.2 L55.91 -0.4 L56.74 0 L57.98 0 L58.8 -0.4 L59.63 -1.2M62.52 -5.6 L62.52 0M62.52 -3.2 L62.93 -4.4 L63.75 -5.2 L64.58 -5.6 L65.82 -5.6M67.05 -5.6 L69.53 0M72.01 -5.6 L69.53 0M79.02 -5.6 L79.02 0M79.02 -4.4 L78.2 -5.2 L77.37 -5.6 L76.13 -5.6 L75.31 -5.2 L74.48 -4.4 L74.07 -3.2 L74.07 -2.4 L74.48 -1.2 L75.31 -0.4 L76.13 0 L77.37 0 L78.2 -0.4 L79.02 -1.2M82.74 -8.4 L82.74 -1.6 L83.15 -0.4 L83.97 0 L84.8 0M81.5 -5.6 L84.39 -5.6M86.94 -8.88 L87.27 -8.56 L87.6 -8.88 L87.27 -9.2 L86.94 -8.88M87.27 -5.6 L87.27 0M92.23 -5.6 L91.4 -5.2 L90.58 -4.4 L90.16 -3.2 L90.16 -2.4 L90.58 -1.2 L91.4 -0.4 L92.23 0 L93.46 0 L94.29 -0.4 L95.11 -1.2 L95.53 -2.4 L95.53 -3.2 L95.11 -4.4 L94.29 -5.2 L93.46 -5.6 L92.23 -5.6M98.42 -5.6 L98.42 0M98.42 -4 L99.65 -5.2 L100.48 -5.6 L101.72 -5.6 L102.54 -5.2 L102.95 -4 L102.95 0M112.86 -10 L112.86 2.8M112.86 -10 L115.75 -10M112.86 2.8 L115.75 2.8M122.76 -4.4 L122.35 -5.2 L121.11 -5.6 L119.87 -5.6 L118.64 -5.2 L118.22 -4.4 L118.64 -3.6 L119.46 -3.2 L121.52 -2.8 L122.35 -2.4 L122.76 -1.6 L122.76 -1.2 L122.35 -0.4 L121.11 0 L119.87 0 L118.64 -0.4 L118.22 -1.2M128.13 -10 L128.13 2.8M125.24 -10 L128.13 -10M125.24 2.8 L128.13 2.8" fill="none" stroke="#000" stroke-width="2.1" stroke-linecap="round" stroke-linejoin="round"/>
<path transform="translate(74.4 383.61)" d="M-27.31 -7.09 L-26.9 -7.38 L-25.66 -8.61 L-25.66 0M-18.27 -8.61 L-19.5 -8.2 L-20.32 -6.97 L-20.73 -4.92 L-20.73 -3.69 L-20.32 -1.64 L-19.5 -0.41 L-18.27 0 L-17.44 0 L-16.21 -0.41 L-15.39 -1.64 L-14.98 -3.69 L-14.98 -4.92 L-15.39 -6.97 L-16.21 -8.2 L-17.44 -8.61 L-18.27 -8.61M-11.63 -6.67 L-7.66 -6.67M-1.13 -9.03 L-1.42 -9.55 L-2.27 -9.82 L-2.84 -9.82 L-3.69 -9.55 L-4.25 -8.77 L-4.54 -7.45 L-4.54 -6.14 L-4.25 -5.09 L-3.69 -4.57 L-2.84 -4.3 L-2.55 -4.3 L-1.7 -4.57 L-1.13 -5.09 L-0.85 -5.88 L-0.85 -6.14 L-1.13 -6.93 L-1.7 -7.45 L-2.55 -7.72 L-2.84 -7.72 L-3.69 -7.45 L-4.25 -6.93 L-4.54 -6.14" fill="none" stroke="#000" stroke-width="2.1" stroke-linecap="round" stroke-linejoin="round"/>
<path transform="translate(74.4 430.32)" d="M-27.31 -7.09 L-26.9 -7.38 L-25.66 -8.61 L-25.66 0M-18.27 -8.61 L-19.5 -8.2 L-20.32 -6.97 L-20.73 -4.92 L-20.73 -3.69 L-20.32 -1.64 L-19.5 -0.41 L-18.27 0 L-17.44 0 L-16.21 -0.41 L-15.39 -1.64 L-14.98 -3.69 L-14.98 -4.92 L-15.39 -6.97 L-16.21 -8.2 L-17.44 -8.61 L-18.27 -8.61M-11.63 -6.67 L-7.66 -6.67M-3.4 -9.82 L-4.25 -9.55 L-4.54 -9.03 L-4.54 -8.5 L-4.25 -7.98 L-3.69 -7.72 L-2.55 -7.45 L-1.7 -7.19 L-1.13 -6.67 L-0.85 -6.14 L-0.85 -5.35 L-1.13 -4.83 L-1.42 -4.57 L-2.27 -4.3 L-3.4 -4.3 L-4.25 -4.57 L-4.54 -4.83 L-4.82 -5.35 L-4.82 -6.14 L-4.54 -6.67 L-3.97 -7.19 L-3.12 -7.45 L-1.99 -7.72 L-1.42 -7.98 L-1.13 -8.5 L-1.13 -9.03 L-1.42 -9.55 L-2.27 -9.82 L-3.4 -9.82" fill="none" stroke="#000" stroke-width="2.1" stroke-linecap="round" stroke-linejoin="round"/>
<path transform="translate(74.4 480.14)" d="M-32.98 -7.09 L-32.57 -7.38 L-31.34 -8.61 L-31.34 0M-23.94 -8.61 L-25.17 -8.2 L-25.99 -6.97 L-26.4 -4.92 L-26.4 -3.69 L-25.99 -1.64 L-25.17 -0.41 L-23.94 0 L-23.12 0 L-21.88 -0.41 L-21.06 -1.64 L-20.65 -3.69 L-20.65 -4.92 L-21.06 -6.97 L-21.88 -8.2 L-23.12 -8.61 L-23.94 -8.61M-17.3 -6.67 L-13.33 -6.67M-9.36 -8.84 L-9.07 -9.03 L-8.22 -9.82 L-8.22 -4.3M-3.12 -9.82 L-3.97 -9.55 L-4.54 -8.77 L-4.82 -7.45 L-4.82 -6.67 L-4.54 -5.35 L-3.97 -4.57 L-3.12 -4.3 L-2.55 -4.3 L-1.7 -4.57 L-1.13 -5.35 L-0.85 -6.67 L-0.85 -7.45 L-1.13 -8.77 L-1.7 -9.55 L-2.55 -9.82 L-3.12 -9.82" fill="none" stroke="#000" stroke-width="2.1" stroke-linecap="round" stroke-linejoin="round"/>
<path transform="translate(74.4 529.95)" d="M-32.98 -7.09 L-32.57 -7.38 L-31.34 -8.61 L-31.34 0M-23.94 -8.61 L-25.17 -8.2 L-25.99 -6.97 L-26.4 -4.92 L-26.4 -3.69 L-25.99 -1.64 L-25.17 -0.41 L-23.94 0 L-23.12 0 L-21.88 -0.41 L-21.06 -1.64 L-20.65 -3.69 L-20.65 -4.92 L-21.06 -6.97 L-21.88 -8.2 L-23.12 -8.61 L-23.94 -8.61M-17.3 -6.67 L-13.33 -6.67M-9.36 -8.84 L-9.07 -9.03 L-8.22 -9.82 L-8.22 -4.3M-4.54 -8.5 L-4.54 -8.77 L-4.25 -9.29 L-3.97 -9.55 L-3.4 -9.82 L-2.27 -9.82 L-1.7 -9.55 L-1.42 -9.29 L-1.13 -8.77 L-1.13 -8.24 L-1.42 -7.72 L-1.99 -6.93 L-4.82 -4.3 L-0.85 -4.3" fill="none" stroke="#000" stroke-width="2.1" stroke-linecap="round" stroke-linejoin="round"/>
<path transform="translate(74.4 579.77)" d="M-32.98 -7.09 L-32.57 -7.38 L-31.34 -8.61 L-31.34 0M-23.94 -8.61 L-25.17 -8.2 L-25.99 -6.97 L-26.4 -4.92 L-26.4 -3.69 L-25.99 -1.64 L-25.17 -0.41 L-23.94 0 L-23.12 0 L-21.88 -0.41 L-21.06 -1.64 L-20.65 -3.69 L-20.65 -4.92 L-21.06 -6.97 L-21.88 -8.2 L-23.12 -8.61 L-23.94 -8.61M-17.3 -6.67 L-13.33 -6.67M-9.36 -8.84 L-9.07 -9.03 L-8.22 -9.82 L-8.22 -4.3M-1.99 -9.82 L-4.82 -6.14 L-0.57 -6.14M-1.99 -9.82 L-1.99 -4.3" fill="none" stroke="#000" stroke-width="2.1" stroke-linecap="round" stroke-linejoin="round"/>
<path transform="translate(74.4 629.59)" d="M-32.98 -7.09 L-32.57 -7.38 L-31.34 -8.61 L-31.34 0M-23.94 -8.61 L-25.17 -8.2 L-25.99 -6.97 L-26.4 -4.92 L-26.4 -3.69 L-25.99 -1.64 L-25.17 -0.41 L-23.94 0 L-23.12 0 L-21.88 -0.41 L-21.06 -1.64 L-20.65 -3.69 L-20.65 -4.92 L-21.06 -6.97 L-21.88 -8.2 L-23.12 -8.61 L-23.94 -8.61M-17.3 -6.67 L-13.33 -6.67M-9.36 -8.84 L-9.07 -9.03 L-8.22 -9.82 L-8.22 -4.3M-1.13 -9.03 L-1.42 -9.55 L-2.27 -9.82 L-2.84 -9.82 L-3.69 -9.55 L-4.25 -8.77 L-4.54 -7.45 L-4.54 -6.14 L-4.25 -5.09 L-3.69 -4.57 L-2.84 -4.3 L-2.55 -4.3 L-1.7 -4.57 L-1.13 -5.09 L-0.85 -5.88 L-0.85 -6.14 L-1.13 -6.93 L-1.7 -7.45 L-2.55 -7.72 L-2.84 -7.72 L-3.69 -7.45 L-4.25 -6.93 L-4.54 -6.14" fill="none" stroke="#000" stroke-width="2.1" stroke-linecap="round" stroke-linejoin="round"/>
<path transform="translate(26.9 513) rotate(-90)" d="M-123.09 -8.29 L-123.09 0M-123.09 -8.29 L-117.72 -8.29M-123.09 -4.35 L-119.79 -4.35M-115.66 -8.29 L-115.66 0M-112.35 -5.53 L-112.35 -1.58 L-111.94 -0.4 L-111.11 0 L-109.87 0 L-109.05 -0.4 L-107.81 -1.58M-107.81 -5.53 L-107.81 0M-104.92 -5.53 L-100.37 0M-100.37 -5.53 L-104.92 0M-90.87 -8.29 L-90.87 0M-87.9 -8.77 L-87.57 -8.45 L-87.24 -8.77 L-87.57 -9.09 L-87.9 -8.77M-87.57 -5.53 L-87.57 0M-84.26 -5.53 L-84.26 0M-84.26 -3.95 L-83.02 -5.13 L-82.2 -5.53 L-80.96 -5.53 L-80.13 -5.13 L-79.72 -3.95 L-79.72 0M-79.72 -3.95 L-78.48 -5.13 L-77.65 -5.53 L-76.42 -5.53 L-75.59 -5.13 L-75.18 -3.95 L-75.18 0M-71.46 -0.55 L-71.95 -0.08 L-71.46 0.4 L-70.96 -0.08 L-71.46 -0.55M-65.26 -8.29 L-66.09 -8.29 L-66.91 -7.9 L-67.33 -6.71 L-67.33 0M-68.57 -5.53 L-65.68 -5.53M-61.13 -5.53 L-61.96 -5.13 L-62.78 -4.35 L-63.2 -3.16 L-63.2 -2.37 L-62.78 -1.19 L-61.96 -0.4 L-61.13 0 L-59.89 0 L-59.07 -0.4 L-58.24 -1.19 L-57.83 -2.37 L-57.83 -3.16 L-58.24 -4.35 L-59.07 -5.13 L-59.89 -5.53 L-61.13 -5.53M-54.94 -5.53 L-54.94 0M-54.94 -3.16 L-54.52 -4.35 L-53.7 -5.13 L-52.87 -5.53 L-51.63 -5.53M-43.78 -5.53 L-41.31 0M-38.83 -5.53 L-41.31 0M-31.81 -5.53 L-31.81 0M-31.81 -4.35 L-32.63 -5.13 L-33.46 -5.53 L-34.7 -5.53 L-35.52 -5.13 L-36.35 -4.35 L-36.76 -3.16 L-36.76 -2.37 L-36.35 -1.19 L-35.52 -0.4 L-34.7 0 L-33.46 0 L-32.63 -0.4 L-31.81 -1.19M-28.5 -5.53 L-28.5 0M-28.5 -3.16 L-28.09 -4.35 L-27.26 -5.13 L-26.44 -5.53 L-25.2 -5.53M-22.72 -0.55 L-23.21 -0.08 L-22.72 0.4 L-22.22 -0.08 L-22.72 -0.55M-14.46 -8.29 L-14.46 0M-14.46 -4.35 L-15.28 -5.13 L-16.11 -5.53 L-17.35 -5.53 L-18.17 -5.13 L-19 -4.35 L-19.41 -3.16 L-19.41 -2.37 L-19 -1.19 L-18.17 -0.4 L-17.35 0 L-16.11 0 L-15.28 -0.4 L-14.46 -1.19M-11.57 -3.16 L-6.61 -3.16 L-6.61 -3.95 L-7.02 -4.74 L-7.43 -5.13 L-8.26 -5.53 L-9.5 -5.53 L-10.33 -5.13 L-11.15 -4.35 L-11.57 -3.16 L-11.57 -2.37 L-11.15 -1.19 L-10.33 -0.4 L-9.5 0 L-8.26 0 L-7.43 -0.4 L-6.61 -1.19M-3.3 -8.29 L-3.3 -1.58 L-2.89 -0.4 L-2.07 0 L-1.24 0M-4.54 -5.53 L-1.65 -5.53M0.83 -3.16 L5.78 -3.16 L5.78 -3.95 L5.37 -4.74 L4.96 -5.13 L4.13 -5.53 L2.89 -5.53 L2.07 -5.13 L1.24 -4.35 L0.83 -3.16 L0.83 -2.37 L1.24 -1.19 L2.07 -0.4 L2.89 0 L4.13 0 L4.96 -0.4 L5.78 -1.19M13.22 -4.35 L12.39 -5.13 L11.57 -5.53 L10.33 -5.53 L9.5 -5.13 L8.67 -4.35 L8.26 -3.16 L8.26 -2.37 L8.67 -1.19 L9.5 -0.4 L10.33 0 L11.57 0 L12.39 -0.4 L13.22 -1.19M16.52 -8.29 L16.52 -1.58 L16.94 -0.4 L17.76 0 L18.59 0M15.28 -5.53 L18.17 -5.53M20.74 -8.77 L21.07 -8.45 L21.4 -8.77 L21.07 -9.09 L20.74 -8.77M21.07 -5.53 L21.07 0M26.02 -5.53 L25.2 -5.13 L24.37 -4.35 L23.96 -3.16 L23.96 -2.37 L24.37 -1.19 L25.2 -0.4 L26.02 0 L27.26 0 L28.09 -0.4 L28.91 -1.19 L29.33 -2.37 L29.33 -3.16 L28.91 -4.35 L28.09 -5.13 L27.26 -5.53 L26.02 -5.53M32.22 -5.53 L32.22 0M32.22 -3.95 L33.46 -5.13 L34.28 -5.53 L35.52 -5.53 L36.35 -5.13 L36.76 -3.95 L36.76 0M46.68 -9.88 L46.68 2.77M46.68 -9.88 L49.57 -9.88M46.68 2.77 L49.57 2.77M54.52 -8.29 L53.28 -7.9 L52.46 -6.71 L52.04 -4.74 L52.04 -3.56 L52.46 -1.58 L53.28 -0.4 L54.52 0 L55.35 0 L56.59 -0.4 L57.41 -1.58 L57.83 -3.56 L57.83 -4.74 L57.41 -6.71 L56.59 -7.9 L55.35 -8.29 L54.52 -8.29M61.13 -0.55 L60.64 -0.08 L61.13 0.4 L61.63 -0.08 L61.13 -0.55M69.39 -8.29 L65.26 -8.29 L64.85 -4.74 L65.26 -5.13 L66.5 -5.53 L67.74 -5.53 L68.98 -5.13 L69.81 -4.35 L70.22 -3.16 L70.22 -2.37 L69.81 -1.19 L68.98 -0.4 L67.74 0 L66.5 0 L65.26 -0.4 L64.85 -0.79 L64.44 -1.58M73.52 -3.56 L79.31 -3.56M83.85 -6.32 L83.85 -6.71 L84.26 -7.51 L84.68 -7.9 L85.5 -8.29 L87.15 -8.29 L87.98 -7.9 L88.39 -7.51 L88.81 -6.71 L88.81 -5.93 L88.39 -5.13 L87.57 -3.95 L83.44 0 L89.22 0M98.72 -8.29 L98.72 0M102.85 -5.53 L98.72 -1.58M100.37 -3.16 L103.26 0M105.33 -3.16 L110.29 -3.16 L110.29 -3.95 L109.87 -4.74 L109.46 -5.13 L108.63 -5.53 L107.39 -5.53 L106.57 -5.13 L105.74 -4.35 L105.33 -3.16 L105.33 -2.37 L105.74 -1.19 L106.57 -0.4 L107.39 0 L108.63 0 L109.46 -0.4 L110.29 -1.19M111.94 -8.29 L115.24 0M118.55 -8.29 L115.24 0M123.09 -9.88 L123.09 2.77M120.2 -9.88 L123.09 -9.88M120.2 2.77 L123.09 2.77" fill="none" stroke="#000" stroke-width="2.1" stroke-linecap="round" stroke-linejoin="round"/>
<rect x="428.9" y="375" width="247.4" height="274.4" fill="none" stroke="#000" stroke-width="2.3"/>
<path d="M428.9 649.4L428.9 643.9M428.9 375L428.9 380.5M441.96 649.4L441.96 646.7M441.96 375L441.96 377.7M449.59 649.4L449.59 646.7M449.59 375L449.59 377.7M455.01 649.4L455.01 646.7M455.01 375L455.01 377.7M459.21 649.4L459.21 646.7M459.21 375L459.21 377.7M462.65 649.4L462.65 646.7M462.65 375L462.65 377.7M465.55 649.4L465.55 646.7M465.55 375L465.55 377.7M468.07 649.4L468.07 646.7M468.07 375L468.07 377.7M470.29 649.4L470.29 646.7M470.29 375L470.29 377.7M472.27 649.4L472.27 643.9M472.27 375L472.27 380.5M485.33 649.4L485.33 646.7M485.33 375L485.33 377.7M492.96 649.4L492.96 646.7M492.96 375L492.96 377.7M498.38 649.4L498.38 646.7M498.38 375L498.38 377.7M502.58 649.4L502.58 646.7M502.58 375L502.58 377.7M506.02 649.4L506.02 646.7M506.02 375L506.02 377.7M508.92 649.4L508.92 646.7M508.92 375L508.92 377.7M511.44 649.4L511.44 646.7M511.44 375L511.44 377.7M513.66 649.4L513.66 646.7M513.66 375L513.66 377.7M515.64 649.4L515.64 643.9M515.64 375L515.64 380.5M528.7 649.4L528.7 646.7M528.7 375L528.7 377.7M536.33 649.4L536.33 646.7M536.33 375L536.33 377.7M541.75 649.4L541.75 646.7M541.75 375L541.75 377.7M545.95 649.4L545.95 646.7M545.95 375L545.95 377.7M549.39 649.4L549.39 646.7M549.39 375L549.39 377.7M552.29 649.4L552.29 646.7M552.29 375L552.29 377.7M554.81 649.4L554.81 646.7M554.81 375L554.81 377.7M557.03 649.4L557.03 646.7M557.03 375L557.03 377.7M559.01 649.4L559.01 643.9M559.01 375L559.01 380.5M572.07 649.4L572.07 646.7M572.07 375L572.07 377.7M579.7 649.4L579.7 646.7M579.7 375L579.7 377.7M585.12 649.4L585.12 646.7M585.12 375L585.12 377.7M589.32 649.4L589.32 646.7M589.32 375L589.32 377.7M592.76 649.4L592.76 646.7M592.76 375L592.76 377.7M595.66 649.4L595.66 646.7M595.66 375L595.66 377.7M598.18 649.4L598.18 646.7M598.18 375L598.18 377.7M600.4 649.4L600.4 646.7M600.4 375L600.4 377.7M602.38 649.4L602.38 643.9M602.38 375L602.38 380.5M615.44 649.4L615.44 646.7M615.44 375L615.44 377.7M623.07 649.4L623.07 646.7M623.07 375L623.07 377.7M628.49 649.4L628.49 646.7M628.49 375L628.49 377.7M632.69 649.4L632.69 646.7M632.69 375L632.69 377.7M636.13 649.4L636.13 646.7M636.13 375L636.13 377.7M639.03 649.4L639.03 646.7M639.03 375L639.03 377.7M641.55 649.4L641.55 646.7M641.55 375L641.55 377.7M643.77 649.4L643.77 646.7M643.77 375L643.77 377.7M645.75 649.4L645.75 643.9M645.75 375L645.75 380.5M658.81 649.4L658.81 646.7M658.81 375L658.81 377.7M666.44 649.4L666.44 646.7M666.44 375L666.44 377.7M671.86 649.4L671.86 646.7M671.86 375L671.86 377.7M676.06 649.4L676.06 646.7M676.06 375L676.06 377.7M428.9 649.4L433.9 649.4M676.3 649.4L671.3 649.4M428.9 628.78L431.4 628.78M676.3 628.78L673.8 628.78M428.9 616.72L431.4 616.72M676.3 616.72L673.8 616.72M428.9 608.16L431.4 608.16M676.3 608.16L673.8 608.16M428.9 601.52L431.4 601.52M676.3 601.52L673.8 601.52M428.9 596.1L431.4 596.1M676.3 596.1L673.8 596.1M428.9 591.51L431.4 591.51M676.3 591.51L673.8 591.51M428.9 587.54L431.4 587.54M676.3 587.54L673.8 587.54M428.9 584.03L431.4 584.03M676.3 584.03L673.8 584.03M428.9 580.9L433.9 580.9M676.3 580.9L671.3 580.9M428.9 560.28L431.4 560.28M676.3 560.28L673.8 560.28M428.9 548.22L431.4 548.22M676.3 548.22L673.8 548.22M428.9 539.66L431.4 539.66M676.3 539.66L673.8 539.66M428.9 533.02L431.4 533.02M676.3 533.02L673.8 533.02M428.9 527.6L431.4 527.6M676.3 527.6L673.8 527.6M428.9 523.01L431.4 523.01M676.3 523.01L673.8 523.01M428.9 519.04L431.4 519.04M676.3 519.04L673.8 519.04M428.9 515.53L431.4 515.53M676.3 515.53L673.8 515.53M428.9 512.4L433.9 512.4M676.3 512.4L671.3 512.4M428.9 491.78L431.4 491.78M676.3 491.78L673.8 491.78M428.9 479.72L431.4 479.72M676.3 479.72L673.8 479.72M428.9 471.16L431.4 471.16M676.3 471.16L673.8 471.16M428.9 464.52L431.4 464.52M676.3 464.52L673.8 464.52M428.9 459.1L431.4 459.1M676.3 459.1L673.8 459.1M428.9 454.51L431.4 454.51M676.3 454.51L673.8 454.51M428.9 450.54L431.4 450.54M676.3 450.54L673.8 450.54M428.9 447.03L431.4 447.03M676.3 447.03L673.8 447.03M428.9 443.9L433.9 443.9M676.3 443.9L671.3 443.9M428.9 423.28L431.4 423.28M676.3 423.28L673.8 423.28M428.9 411.22L431.4 411.22M676.3 411.22L673.8 411.22M428.9 402.66L431.4 402.66M676.3 402.66L673.8 402.66M428.9 396.02L431.4 396.02M676.3 396.02L673.8 396.02M428.9 390.6L431.4 390.6M676.3 390.6L673.8 390.6M428.9 386.01L431.4 386.01M676.3 386.01L673.8 386.01M428.9 382.04L431.4 382.04M676.3 382.04L673.8 382.04M428.9 378.53L431.4 378.53M676.3 378.53L673.8 378.53M428.9 375.4L433.9 375.4M676.3 375.4L671.3 375.4" stroke="#000" stroke-width="2" fill="none"/>
<g>
<polyline points="514.8,375 515,444.3 518.6,429.5 521.4,443.6 524.3,444 524.3,479.85 528.64,479.85 528.64,488.38 532.97,488.38 532.97,498.82 537.31,498.82 537.31,511.23 541.65,511.23 541.65,523.63 545.98,523.63 545.98,534.48 550.32,534.48 550.32,544.32 554.66,544.32 554.66,553.42 559,553.42 559,561.91 563.33,561.91 563.33,568.61 567.67,570.53 567.67,575.55 572.01,577.67 572.01,581.5 572.07,581.53" fill="none" stroke="#00c800" stroke-width="5.9" stroke-linejoin="bevel" stroke-linecap="butt"/>
<polyline points="514.8,375 515,444.3 518.6,429.5 521.4,443.6 524.3,444 524.3,479.85 528.64,479.85 528.64,488.38 532.97,488.38 532.97,498.82 537.31,498.82 537.31,511.23 541.65,511.23 541.65,523.63 545.98,523.63 545.98,534.48 550.32,534.48 550.32,544.32 554.66,544.32 554.66,553.42 559,553.42 559,561.91 563.33,561.91 563.33,568.61 567.67,570.53 567.67,575.55 572.01,577.67 572.01,581.5 576.34,583.94 576.34,586.92 580.68,589.3 580.68,591.98 585.02,594.05 585.02,596.57 589.35,598.54 589.35,600.6 593.69,602.08 593.69,603.89 598.03,605.24 598.03,606.54 602.37,607.46 602.37,608.58 606.7,609.49 606.7,610.31 607.32,610.37" fill="none" stroke="#00c8c8" stroke-width="4.2" stroke-linejoin="bevel" stroke-linecap="butt"/>
<polyline points="514.8,375 515,444.3 518.6,429.5 521.4,443.6 524.3,444 524.3,479.85 528.64,479.85 528.64,488.38 532.97,488.38 532.97,498.82 537.31,498.82 537.31,511.23 541.65,511.23 541.65,523.63 545.98,523.63 545.98,534.48 550.32,534.48 550.32,544.32 554.66,544.32 554.66,553.42 559,553.42 559,561.91 563.33,561.91 563.33,568.61 567.67,570.53 567.67,575.55 572.01,577.67 572.01,580.96 576.34,584.48 576.34,586.3 580.68,589.9 580.68,591.08 585.02,594.95 585.02,595.56 589.35,599.46 589.35,599.7 593.69,602.99 593.69,602.99 598.03,605.98 598.03,605.98 602.37,608.02 602.37,608.02 606.7,610.05 606.7,610.05 607.32,610.18 625,613.8 644.6,617.3 658,619.2 670.9,620.6 672,621.5" fill="none" stroke="#6464ff" stroke-width="2.6" stroke-linejoin="round" stroke-linecap="butt"/>
<line x1="572.07" y1="375.1" x2="572.07" y2="649.9" stroke="#00c800" stroke-width="3.9" stroke-dasharray="7.86 7.86" stroke-dashoffset="0.4"/>
<line x1="607.32" y1="375.1" x2="607.32" y2="649.9" stroke="#00c8c8" stroke-width="3.9" stroke-dasharray="7.86 7.86" stroke-dashoffset="0.4"/>
<line x1="672.28" y1="375.1" x2="672.28" y2="649.9" stroke="#6464ff" stroke-width="3.9" stroke-dasharray="7.86 7.86" stroke-dashoffset="0.4"/>
</g>
<rect x="441.5" y="556.5" width="108" height="73" fill="none" stroke="#7c7c7c" stroke-width="1"/>
<path transform="translate(460.9 576.9)" d="M1.38 -12.71 L4.82 0M8.27 -12.71 L4.82 0M8.27 -12.71 L11.71 0M15.16 -12.71 L11.71 0M18.74 -13.43 L19.29 -12.95 L19.84 -13.43 L19.29 -13.91 L18.74 -13.43M19.29 -8.47 L19.29 0M32.38 -12.71 L32.38 0M32.38 -6.65 L31 -7.87 L29.63 -8.47 L27.56 -8.47 L26.18 -7.87 L24.8 -6.65 L24.11 -4.84 L24.11 -3.63 L24.8 -1.81 L26.18 -0.6 L27.56 0 L29.63 0 L31 -0.6 L32.38 -1.81M37.21 -4.84 L45.47 -4.84 L45.47 -6.05 L44.78 -7.26 L44.1 -7.87 L42.72 -8.47 L40.65 -8.47 L39.27 -7.87 L37.89 -6.65 L37.21 -4.84 L37.21 -3.63 L37.89 -1.81 L39.27 -0.6 L40.65 0 L42.72 0 L44.1 -0.6 L45.47 -1.81" fill="none" stroke="#00c800" stroke-width="2" stroke-linecap="round" stroke-linejoin="round"/>
<path transform="translate(460.9 597.5)" d="M2.76 -12.71 L2.76 0M2.76 -12.71 L8.27 0M13.78 -12.71 L8.27 0M13.78 -12.71 L13.78 0M18.6 -4.84 L26.87 -4.84 L26.87 -6.05 L26.18 -7.26 L25.49 -7.87 L24.11 -8.47 L22.05 -8.47 L20.67 -7.87 L19.29 -6.65 L18.6 -4.84 L18.6 -3.63 L19.29 -1.81 L20.67 -0.6 L22.05 0 L24.11 0 L25.49 -0.6 L26.87 -1.81M39.27 -12.71 L39.27 0M39.27 -6.65 L37.89 -7.87 L36.52 -8.47 L34.45 -8.47 L33.07 -7.87 L31.69 -6.65 L31 -4.84 L31 -3.63 L31.69 -1.81 L33.07 -0.6 L34.45 0 L36.52 0 L37.89 -0.6 L39.27 -1.81M44.23 -13.43 L44.78 -12.95 L45.34 -13.43 L44.78 -13.91 L44.23 -13.43M44.78 -8.47 L44.78 0M50.3 -8.47 L50.3 -2.42 L50.99 -0.6 L52.36 0 L54.43 0 L55.81 -0.6 L57.88 -2.42M57.88 -8.47 L57.88 0M63.39 -8.47 L63.39 0M63.39 -6.05 L65.45 -7.87 L66.83 -8.47 L68.9 -8.47 L70.28 -7.87 L70.97 -6.05 L70.97 0M70.97 -6.05 L73.03 -7.87 L74.41 -8.47 L76.48 -8.47 L77.86 -7.87 L78.55 -6.05 L78.55 0" fill="none" stroke="#00c8c8" stroke-width="2" stroke-linecap="round" stroke-linejoin="round"/>
<path transform="translate(460.9 618)" d="M2.76 -12.71 L2.76 0M2.76 -12.71 L7.58 -12.71 L9.65 -12.1 L11.02 -10.89 L11.71 -9.68 L12.4 -7.87 L12.4 -4.84 L11.71 -3.02 L11.02 -1.81 L9.65 -0.6 L7.58 0 L2.76 0M16.54 -4.84 L24.8 -4.84 L24.8 -6.05 L24.11 -7.26 L23.43 -7.87 L22.05 -8.47 L19.98 -8.47 L18.6 -7.87 L17.22 -6.65 L16.54 -4.84 L16.54 -3.63 L17.22 -1.81 L18.6 -0.6 L19.98 0 L22.05 0 L23.43 -0.6 L24.8 -1.81M28.94 -4.84 L37.21 -4.84 L37.21 -6.05 L36.52 -7.26 L35.83 -7.87 L34.45 -8.47 L32.38 -8.47 L31 -7.87 L29.63 -6.65 L28.94 -4.84 L28.94 -3.63 L29.63 -1.81 L31 -0.6 L32.38 0 L34.45 0 L35.83 -0.6 L37.21 -1.81M42.03 -8.47 L42.03 4.23M42.03 -6.65 L43.41 -7.87 L44.78 -8.47 L46.85 -8.47 L48.23 -7.87 L49.61 -6.65 L50.3 -4.84 L50.3 -3.63 L49.61 -1.81 L48.23 -0.6 L46.85 0 L44.78 0 L43.41 -0.6 L42.03 -1.81" fill="none" stroke="#6464ff" stroke-width="2" stroke-linecap="round" stroke-linejoin="round"/>
<path transform="translate(428.9 669)" d="M-9.54 -7.09 L-9.13 -7.38 L-7.9 -8.61 L-7.9 0M-0.5 -8.61 L-1.73 -8.2 L-2.56 -6.97 L-2.97 -4.92 L-2.97 -3.69 L-2.56 -1.64 L-1.73 -0.41 L-0.5 0 L0.32 0 L1.55 -0.41 L2.38 -1.64 L2.79 -3.69 L2.79 -4.92 L2.38 -6.97 L1.55 -8.2 L0.32 -8.61 L-0.5 -8.61M7.27 -9.82 L6.42 -9.55 L5.86 -8.77 L5.57 -7.45 L5.57 -6.67 L5.86 -5.35 L6.42 -4.57 L7.27 -4.3 L7.84 -4.3 L8.69 -4.57 L9.26 -5.35 L9.54 -6.67 L9.54 -7.45 L9.26 -8.77 L8.69 -9.55 L7.84 -9.82 L7.27 -9.82" fill="none" stroke="#000" stroke-width="2.1" stroke-linecap="round" stroke-linejoin="round"/>
<path transform="translate(472.27 669)" d="M-8.69 -7.09 L-8.28 -7.38 L-7.05 -8.61 L-7.05 0M0.35 -8.61 L-0.88 -8.2 L-1.7 -6.97 L-2.12 -4.92 L-2.12 -3.69 L-1.7 -1.64 L-0.88 -0.41 L0.35 0 L1.17 0 L2.41 -0.41 L3.23 -1.64 L3.64 -3.69 L3.64 -4.92 L3.23 -6.97 L2.41 -8.2 L1.17 -8.61 L0.35 -8.61M7.56 -8.84 L7.84 -9.03 L8.69 -9.82 L8.69 -4.3" fill="none" stroke="#000" stroke-width="2.1" stroke-linecap="round" stroke-linejoin="round"/>
<path transform="translate(515.64 669)" d="M-9.54 -7.09 L-9.13 -7.38 L-7.9 -8.61 L-7.9 0M-0.5 -8.61 L-1.73 -8.2 L-2.56 -6.97 L-2.97 -4.92 L-2.97 -3.69 L-2.56 -1.64 L-1.73 -0.41 L-0.5 0 L0.32 0 L1.55 -0.41 L2.38 -1.64 L2.79 -3.69 L2.79 -4.92 L2.38 -6.97 L1.55 -8.2 L0.32 -8.61 L-0.5 -8.61M5.86 -8.5 L5.86 -8.77 L6.14 -9.29 L6.42 -9.55 L6.99 -9.82 L8.12 -9.82 L8.69 -9.55 L8.97 -9.29 L9.26 -8.77 L9.26 -8.24 L8.97 -7.72 L8.41 -6.93 L5.57 -4.3 L9.54 -4.3" fill="none" stroke="#000" stroke-width="2.1" stroke-linecap="round" stroke-linejoin="round"/>
<path transform="translate(559.01 669)" d="M-9.54 -7.09 L-9.13 -7.38 L-7.9 -8.61 L-7.9 0M-0.5 -8.61 L-1.73 -8.2 L-2.56 -6.97 L-2.97 -4.92 L-2.97 -3.69 L-2.56 -1.64 L-1.73 -0.41 L-0.5 0 L0.32 0 L1.55 -0.41 L2.38 -1.64 L2.79 -3.69 L2.79 -4.92 L2.38 -6.97 L1.55 -8.2 L0.32 -8.61 L-0.5 -8.61M6.14 -9.82 L9.26 -9.82 L7.56 -7.72 L8.41 -7.72 L8.97 -7.45 L9.26 -7.19 L9.54 -6.4 L9.54 -5.88 L9.26 -5.09 L8.69 -4.57 L7.84 -4.3 L6.99 -4.3 L6.14 -4.57 L5.86 -4.83 L5.57 -5.35" fill="none" stroke="#000" stroke-width="2.1" stroke-linecap="round" stroke-linejoin="round"/>
<path transform="translate(602.38 669)" d="M-9.68 -7.09 L-9.27 -7.38 L-8.04 -8.61 L-8.04 0M-0.64 -8.61 L-1.87 -8.2 L-2.7 -6.97 L-3.11 -4.92 L-3.11 -3.69 L-2.7 -1.64 L-1.87 -0.41 L-0.64 0 L0.18 0 L1.41 -0.41 L2.24 -1.64 L2.65 -3.69 L2.65 -4.92 L2.24 -6.97 L1.41 -8.2 L0.18 -8.61 L-0.64 -8.61M8.27 -9.82 L5.43 -6.14 L9.68 -6.14M8.27 -9.82 L8.27 -4.3" fill="none" stroke="#000" stroke-width="2.1" stroke-linecap="round" stroke-linejoin="round"/>
<path transform="translate(645.75 669)" d="M-9.54 -7.09 L-9.13 -7.38 L-7.9 -8.61 L-7.9 0M-0.5 -8.61 L-1.73 -8.2 L-2.56 -6.97 L-2.97 -4.92 L-2.97 -3.69 L-2.56 -1.64 L-1.73 -0.41 L-0.5 0 L0.32 0 L1.55 -0.41 L2.38 -1.64 L2.79 -3.69 L2.79 -4.92 L2.38 -6.97 L1.55 -8.2 L0.32 -8.61 L-0.5 -8.61M8.97 -9.82 L6.14 -9.82 L5.86 -7.45 L6.14 -7.72 L6.99 -7.98 L7.84 -7.98 L8.69 -7.72 L9.26 -7.19 L9.54 -6.4 L9.54 -5.88 L9.26 -5.09 L8.69 -4.57 L7.84 -4.3 L6.99 -4.3 L6.14 -4.57 L5.86 -4.83 L5.57 -5.35" fill="none" stroke="#000" stroke-width="2.1" stroke-linecap="round" stroke-linejoin="round"/>
<path transform="translate(552.3 684.2)" d="M-126.48 -8.4 L-126.48 0M-128.37 -8.4 L-124.58 -8.4M-121.85 -8.88 L-121.52 -8.56 L-121.19 -8.88 L-121.52 -9.2 L-121.85 -8.88M-121.52 -5.6 L-121.52 0M-118.22 -5.6 L-118.22 0M-118.22 -4 L-116.98 -5.2 L-116.16 -5.6 L-114.92 -5.6 L-114.1 -5.2 L-113.68 -4 L-113.68 0M-113.68 -4 L-112.45 -5.2 L-111.62 -5.6 L-110.38 -5.6 L-109.56 -5.2 L-109.14 -4 L-109.14 0M-106.26 -3.2 L-101.3 -3.2 L-101.3 -4 L-101.72 -4.8 L-102.13 -5.2 L-102.95 -5.6 L-104.19 -5.6 L-105.02 -5.2 L-105.84 -4.4 L-106.26 -3.2 L-106.26 -2.4 L-105.84 -1.2 L-105.02 -0.4 L-104.19 0 L-102.95 0 L-102.13 -0.4 L-101.3 -1.2M-89.34 -8.4 L-90.16 -8.4 L-90.99 -8 L-91.4 -6.8 L-91.4 0M-92.64 -5.6 L-89.75 -5.6M-86.86 -5.6 L-86.86 0M-86.86 -3.2 L-86.45 -4.4 L-85.62 -5.2 L-84.8 -5.6 L-83.56 -5.6M-79.85 -5.6 L-80.67 -5.2 L-81.5 -4.4 L-81.91 -3.2 L-81.91 -2.4 L-81.5 -1.2 L-80.67 -0.4 L-79.85 0 L-78.61 0 L-77.78 -0.4 L-76.96 -1.2 L-76.55 -2.4 L-76.55 -3.2 L-76.96 -4.4 L-77.78 -5.2 L-78.61 -5.6 L-79.85 -5.6M-73.66 -5.6 L-73.66 0M-73.66 -4 L-72.42 -5.2 L-71.59 -5.6 L-70.36 -5.6 L-69.53 -5.2 L-69.12 -4 L-69.12 0M-69.12 -4 L-67.88 -5.2 L-67.05 -5.6 L-65.82 -5.6 L-64.99 -5.2 L-64.58 -4 L-64.58 0M-54.68 -8.4 L-54.68 0M-54.68 -4.4 L-53.85 -5.2 L-53.02 -5.6 L-51.79 -5.6 L-50.96 -5.2 L-50.14 -4.4 L-49.72 -3.2 L-49.72 -2.4 L-50.14 -1.2 L-50.96 -0.4 L-51.79 0 L-53.02 0 L-53.85 -0.4 L-54.68 -1.2M-47.25 -3.2 L-42.3 -3.2 L-42.3 -4 L-42.71 -4.8 L-43.12 -5.2 L-43.95 -5.6 L-45.18 -5.6 L-46.01 -5.2 L-46.84 -4.4 L-47.25 -3.2 L-47.25 -2.4 L-46.84 -1.2 L-46.01 -0.4 L-45.18 0 L-43.95 0 L-43.12 -0.4 L-42.3 -1.2M-34.87 -5.6 L-34.87 0.8 L-35.28 2 L-35.69 2.4 L-36.52 2.8 L-37.76 2.8 L-38.58 2.4M-34.87 -4.4 L-35.69 -5.2 L-36.52 -5.6 L-37.76 -5.6 L-38.58 -5.2 L-39.41 -4.4 L-39.82 -3.2 L-39.82 -2.4 L-39.41 -1.2 L-38.58 -0.4 L-37.76 0 L-36.52 0 L-35.69 -0.4 L-34.87 -1.2M-31.9 -8.88 L-31.57 -8.56 L-31.24 -8.88 L-31.57 -9.2 L-31.9 -8.88M-31.57 -5.6 L-31.57 0M-28.27 -5.6 L-28.27 0M-28.27 -4 L-27.03 -5.2 L-26.2 -5.6 L-24.96 -5.6 L-24.14 -5.2 L-23.73 -4 L-23.73 0M-20.43 -5.6 L-20.43 0M-20.43 -4 L-19.19 -5.2 L-18.36 -5.6 L-17.12 -5.6 L-16.3 -5.2 L-15.89 -4 L-15.89 0M-12.92 -8.88 L-12.59 -8.56 L-12.26 -8.88 L-12.59 -9.2 L-12.92 -8.88M-12.59 -5.6 L-12.59 0M-9.28 -5.6 L-9.28 0M-9.28 -4 L-8.05 -5.2 L-7.22 -5.6 L-5.98 -5.6 L-5.16 -5.2 L-4.75 -4 L-4.75 0M3.09 -5.6 L3.09 0.8 L2.68 2 L2.27 2.4 L1.44 2.8 L0.21 2.8 L-0.62 2.4M3.09 -4.4 L2.27 -5.2 L1.44 -5.6 L0.21 -5.6 L-0.62 -5.2 L-1.44 -4.4 L-1.86 -3.2 L-1.86 -2.4 L-1.44 -1.2 L-0.62 -0.4 L0.21 0 L1.44 0 L2.27 -0.4 L3.09 -1.2M14.65 -5.6 L13.82 -5.2 L13 -4.4 L12.59 -3.2 L12.59 -2.4 L13 -1.2 L13.82 -0.4 L14.65 0 L15.89 0 L16.71 -0.4 L17.54 -1.2 L17.95 -2.4 L17.95 -3.2 L17.54 -4.4 L16.71 -5.2 L15.89 -5.6 L14.65 -5.6M23.31 -8.4 L22.49 -8.4 L21.66 -8 L21.25 -6.8 L21.25 0M20.01 -5.6 L22.9 -5.6M34.04 -5.6 L33.22 -5.2 L32.39 -4.4 L31.98 -3.2 L31.98 -2.4 L32.39 -1.2 L33.22 -0.4 L34.04 0 L35.28 0 L36.11 -0.4 L36.93 -1.2 L37.34 -2.4 L37.34 -3.2 L36.93 -4.4 L36.11 -5.2 L35.28 -5.6 L34.04 -5.6M40.23 -8.4 L40.23 0M40.23 -4.4 L41.06 -5.2 L41.88 -5.6 L43.12 -5.6 L43.95 -5.2 L44.77 -4.4 L45.18 -3.2 L45.18 -2.4 L44.77 -1.2 L43.95 -0.4 L43.12 0 L41.88 0 L41.06 -0.4 L40.23 -1.2M52.2 -4.4 L51.79 -5.2 L50.55 -5.6 L49.31 -5.6 L48.07 -5.2 L47.66 -4.4 L48.07 -3.6 L48.9 -3.2 L50.96 -2.8 L51.79 -2.4 L52.2 -1.6 L52.2 -1.2 L51.79 -0.4 L50.55 0 L49.31 0 L48.07 -0.4 L47.66 -1.2M54.68 -3.2 L59.63 -3.2 L59.63 -4 L59.21 -4.8 L58.8 -5.2 L57.98 -5.6 L56.74 -5.6 L55.91 -5.2 L55.09 -4.4 L54.68 -3.2 L54.68 -2.4 L55.09 -1.2 L55.91 -0.4 L56.74 0 L57.98 0 L58.8 -0.4 L59.63 -1.2M62.52 -5.6 L62.52 0M62.52 -3.2 L62.93 -4.4 L63.75 -5.2 L64.58 -5.6 L65.82 -5.6M67.05 -5.6 L69.53 0M72.01 -5.6 L69.53 0M79.02 -5.6 L79.02 0M79.02 -4.4 L78.2 -5.2 L77.37 -5.6 L76.13 -5.6 L75.31 -5.2 L74.48 -4.4 L74.07 -3.2 L74.07 -2.4 L74.48 -1.2 L75.31 -0.4 L76.13 0 L77.37 0 L78.2 -0.4 L79.02 -1.2M82.74 -8.4 L82.74 -1.6 L83.15 -0.4 L83.97 0 L84.8 0M81.5 -5.6 L84.39 -5.6M86.94 -8.88 L87.27 -8.56 L87.6 -8.88 L87.27 -9.2 L86.94 -8.88M87.27 -5.6 L87.27 0M92.23 -5.6 L91.4 -5.2 L90.58 -4.4 L90.16 -3.2 L90.16 -2.4 L90.58 -1.2 L91.4 -0.4 L92.23 0 L93.46 0 L94.29 -0.4 L95.11 -1.2 L95.53 -2.4 L95.53 -3.2 L95.11 -4.4 L94.29 -5.2 L93.46 -5.6 L92.23 -5.6M98.42 -5.6 L98.42 0M98.42 -4 L99.65 -5.2 L100.48 -5.6 L101.72 -5.6 L102.54 -5.2 L102.95 -4 L102.95 0M112.86 -10 L112.86 2.8M112.86 -10 L115.75 -10M112.86 2.8 L115.75 2.8M122.76 -4.4 L122.35 -5.2 L121.11 -5.6 L119.87 -5.6 L118.64 -5.2 L118.22 -4.4 L118.64 -3.6 L119.46 -3.2 L121.52 -2.8 L122.35 -2.4 L122.76 -1.6 L122.76 -1.2 L122.35 -0.4 L121.11 0 L119.87 0 L118.64 -0.4 L118.22 -1.2M128.13 -10 L128.13 2.8M125.24 -10 L128.13 -10M125.24 2.8 L128.13 2.8" fill="none" stroke="#000" stroke-width="2.1" stroke-linecap="round" stroke-linejoin="round"/>
<path transform="translate(424.4 383.61)" d="M-19.93 -7.09 L-19.52 -7.38 L-18.29 -8.61 L-18.29 0M-10.89 -8.61 L-12.13 -8.2 L-12.95 -6.97 L-13.36 -4.92 L-13.36 -3.69 L-12.95 -1.64 L-12.13 -0.41 L-10.89 0 L-10.07 0 L-8.84 -0.41 L-8.02 -1.64 L-7.6 -3.69 L-7.6 -4.92 L-8.02 -6.97 L-8.84 -8.2 L-10.07 -8.61 L-10.89 -8.61M-0.85 -9.82 L-3.69 -4.3M-4.82 -9.82 L-0.85 -9.82" fill="none" stroke="#000" stroke-width="2.1" stroke-linecap="round" stroke-linejoin="round"/>
<path transform="translate(424.4 449)" d="M-19.93 -7.09 L-19.52 -7.38 L-18.29 -8.61 L-18.29 0M-10.89 -8.61 L-12.13 -8.2 L-12.95 -6.97 L-13.36 -4.92 L-13.36 -3.69 L-12.95 -1.64 L-12.13 -0.41 L-10.89 0 L-10.07 0 L-8.84 -0.41 L-8.02 -1.64 L-7.6 -3.69 L-7.6 -4.92 L-8.02 -6.97 L-8.84 -8.2 L-10.07 -8.61 L-10.89 -8.61M-1.13 -9.03 L-1.42 -9.55 L-2.27 -9.82 L-2.84 -9.82 L-3.69 -9.55 L-4.25 -8.77 L-4.54 -7.45 L-4.54 -6.14 L-4.25 -5.09 L-3.69 -4.57 L-2.84 -4.3 L-2.55 -4.3 L-1.7 -4.57 L-1.13 -5.09 L-0.85 -5.88 L-0.85 -6.14 L-1.13 -6.93 L-1.7 -7.45 L-2.55 -7.72 L-2.84 -7.72 L-3.69 -7.45 L-4.25 -6.93 L-4.54 -6.14" fill="none" stroke="#000" stroke-width="2.1" stroke-linecap="round" stroke-linejoin="round"/>
<path transform="translate(424.4 517.5)" d="M-19.93 -7.09 L-19.52 -7.38 L-18.29 -8.61 L-18.29 0M-10.89 -8.61 L-12.13 -8.2 L-12.95 -6.97 L-13.36 -4.92 L-13.36 -3.69 L-12.95 -1.64 L-12.13 -0.41 L-10.89 0 L-10.07 0 L-8.84 -0.41 L-8.02 -1.64 L-7.6 -3.69 L-7.6 -4.92 L-8.02 -6.97 L-8.84 -8.2 L-10.07 -8.61 L-10.89 -8.61M-1.42 -9.82 L-4.25 -9.82 L-4.54 -7.45 L-4.25 -7.72 L-3.4 -7.98 L-2.55 -7.98 L-1.7 -7.72 L-1.13 -7.19 L-0.85 -6.4 L-0.85 -5.88 L-1.13 -5.09 L-1.7 -4.57 L-2.55 -4.3 L-3.4 -4.3 L-4.25 -4.57 L-4.54 -4.83 L-4.82 -5.35" fill="none" stroke="#000" stroke-width="2.1" stroke-linecap="round" stroke-linejoin="round"/>
<path transform="translate(424.4 586)" d="M-19.93 -7.09 L-19.52 -7.38 L-18.29 -8.61 L-18.29 0M-10.89 -8.61 L-12.13 -8.2 L-12.95 -6.97 L-13.36 -4.92 L-13.36 -3.69 L-12.95 -1.64 L-12.13 -0.41 L-10.89 0 L-10.07 0 L-8.84 -0.41 L-8.02 -1.64 L-7.6 -3.69 L-7.6 -4.92 L-8.02 -6.97 L-8.84 -8.2 L-10.07 -8.61 L-10.89 -8.61M-1.99 -9.82 L-4.82 -6.14 L-0.57 -6.14M-1.99 -9.82 L-1.99 -4.3" fill="none" stroke="#000" stroke-width="2.1" stroke-linecap="round" stroke-linejoin="round"/>
<path transform="translate(424.4 649.4)" d="M-19.93 -7.09 L-19.52 -7.38 L-18.29 -8.61 L-18.29 0M-10.89 -8.61 L-12.13 -8.2 L-12.95 -6.97 L-13.36 -4.92 L-13.36 -3.69 L-12.95 -1.64 L-12.13 -0.41 L-10.89 0 L-10.07 0 L-8.84 -0.41 L-8.02 -1.64 L-7.6 -3.69 L-7.6 -4.92 L-8.02 -6.97 L-8.84 -8.2 L-10.07 -8.61 L-10.89 -8.61M-4.25 -9.82 L-1.13 -9.82 L-2.84 -7.72 L-1.99 -7.72 L-1.42 -7.45 L-1.13 -7.19 L-0.85 -6.4 L-0.85 -5.88 L-1.13 -5.09 L-1.7 -4.57 L-2.55 -4.3 L-3.4 -4.3 L-4.25 -4.57 L-4.54 -4.83 L-4.82 -5.35" fill="none" stroke="#000" stroke-width="2.1" stroke-linecap="round" stroke-linejoin="round"/>
<path transform="translate(390.2 512.8) rotate(-90)" d="M-123.92 -8.29 L-123.92 0M-123.92 -8.29 L-120.61 0M-117.31 -8.29 L-120.61 0M-117.31 -8.29 L-117.31 0M-114.33 -8.77 L-114 -8.45 L-113.67 -8.77 L-114 -9.09 L-114.33 -8.77M-114 -5.53 L-114 0M-110.7 -5.53 L-110.7 0M-110.7 -3.95 L-109.46 -5.13 L-108.63 -5.53 L-107.39 -5.53 L-106.57 -5.13 L-106.16 -3.95 L-106.16 0M-102.44 -0.55 L-102.93 -0.08 L-102.44 0.4 L-101.94 -0.08 L-102.44 -0.55M-94.18 -4.35 L-95 -5.13 L-95.83 -5.53 L-97.07 -5.53 L-97.89 -5.13 L-98.72 -4.35 L-99.13 -3.16 L-99.13 -2.37 L-98.72 -1.19 L-97.89 -0.4 L-97.07 0 L-95.83 0 L-95 -0.4 L-94.18 -1.19M-89.63 -5.53 L-90.46 -5.13 L-91.29 -4.35 L-91.7 -3.16 L-91.7 -2.37 L-91.29 -1.19 L-90.46 -0.4 L-89.63 0 L-88.39 0 L-87.57 -0.4 L-86.74 -1.19 L-86.33 -2.37 L-86.33 -3.16 L-86.74 -4.35 L-87.57 -5.13 L-88.39 -5.53 L-89.63 -5.53M-83.44 -5.53 L-83.44 -1.58 L-83.02 -0.4 L-82.2 0 L-80.96 0 L-80.13 -0.4 L-78.89 -1.58M-78.89 -5.53 L-78.89 0M-75.59 -5.53 L-75.59 0M-75.59 -3.95 L-74.35 -5.13 L-73.52 -5.53 L-72.28 -5.53 L-71.46 -5.13 L-71.05 -3.95 L-71.05 0M-67.33 -8.29 L-67.33 -1.58 L-66.91 -0.4 L-66.09 0 L-65.26 0M-68.57 -5.53 L-65.68 -5.53M-58.65 -4.35 L-59.07 -5.13 L-60.31 -5.53 L-61.55 -5.53 L-62.78 -5.13 L-63.2 -4.35 L-62.78 -3.56 L-61.96 -3.16 L-59.89 -2.77 L-59.07 -2.37 L-58.65 -1.58 L-58.65 -1.19 L-59.07 -0.4 L-60.31 0 L-61.55 0 L-62.78 -0.4 L-63.2 -1.19M-46.26 -9.88 L-47.09 -9.09 L-47.91 -7.9 L-48.74 -6.32 L-49.15 -4.35 L-49.15 -2.77 L-48.74 -0.79 L-47.91 0.79 L-47.09 1.98 L-46.26 2.77M-42.96 -8.29 L-42.96 -1.58 L-42.54 -0.4 L-41.72 0 L-40.89 0M-44.2 -5.53 L-41.31 -5.53M-36.76 -5.53 L-37.59 -5.13 L-38.41 -4.35 L-38.83 -3.16 L-38.83 -2.37 L-38.41 -1.19 L-37.59 -0.4 L-36.76 0 L-35.52 0 L-34.7 -0.4 L-33.87 -1.19 L-33.46 -2.37 L-33.46 -3.16 L-33.87 -4.35 L-34.7 -5.13 L-35.52 -5.53 L-36.76 -5.53M-19.41 -5.53 L-19.41 0M-19.41 -4.35 L-20.24 -5.13 L-21.07 -5.53 L-22.3 -5.53 L-23.13 -5.13 L-23.96 -4.35 L-24.37 -3.16 L-24.37 -2.37 L-23.96 -1.19 L-23.13 -0.4 L-22.3 0 L-21.07 0 L-20.24 -0.4 L-19.41 -1.19M-16.11 -5.53 L-16.11 0M-16.11 -3.16 L-15.7 -4.35 L-14.87 -5.13 L-14.04 -5.53 L-12.8 -5.53M-6.2 -4.35 L-7.02 -5.13 L-7.85 -5.53 L-9.09 -5.53 L-9.91 -5.13 L-10.74 -4.35 L-11.15 -3.16 L-11.15 -2.37 L-10.74 -1.19 L-9.91 -0.4 L-9.09 0 L-7.85 0 L-7.02 -0.4 L-6.2 -1.19M-3.3 -8.29 L-3.3 0M-3.3 -3.95 L-2.07 -5.13 L-1.24 -5.53 L0 -5.53 L0.83 -5.13 L1.24 -3.95 L1.24 0M4.21 -8.77 L4.54 -8.45 L4.87 -8.77 L4.54 -9.09 L4.21 -8.77M4.54 -5.53 L4.54 0M7.43 -3.16 L12.39 -3.16 L12.39 -3.95 L11.98 -4.74 L11.57 -5.13 L10.74 -5.53 L9.5 -5.53 L8.67 -5.13 L7.85 -4.35 L7.43 -3.16 L7.43 -2.37 L7.85 -1.19 L8.67 -0.4 L9.5 0 L10.74 0 L11.57 -0.4 L12.39 -1.19M14.46 -5.53 L16.94 0M19.41 -5.53 L16.94 0M21.48 -3.16 L26.44 -3.16 L26.44 -3.95 L26.02 -4.74 L25.61 -5.13 L24.78 -5.53 L23.54 -5.53 L22.72 -5.13 L21.89 -4.35 L21.48 -3.16 L21.48 -2.37 L21.89 -1.19 L22.72 -0.4 L23.54 0 L24.78 0 L25.61 -0.4 L26.44 -1.19M35.94 -5.53 L35.94 0M35.94 -3.16 L36.35 -4.35 L37.17 -5.13 L38 -5.53 L39.24 -5.53M40.89 -3.16 L45.85 -3.16 L45.85 -3.95 L45.44 -4.74 L45.02 -5.13 L44.2 -5.53 L42.96 -5.53 L42.13 -5.13 L41.31 -4.35 L40.89 -3.16 L40.89 -2.37 L41.31 -1.19 L42.13 -0.4 L42.96 0 L44.2 0 L45.02 -0.4 L45.85 -1.19M53.28 -5.53 L53.28 2.77M53.28 -4.35 L52.46 -5.13 L51.63 -5.53 L50.39 -5.53 L49.57 -5.13 L48.74 -4.35 L48.33 -3.16 L48.33 -2.37 L48.74 -1.19 L49.57 -0.4 L50.39 0 L51.63 0 L52.46 -0.4 L53.28 -1.19M56.59 -5.53 L56.59 -1.58 L57 -0.4 L57.83 0 L59.07 0 L59.89 -0.4 L61.13 -1.58M61.13 -5.53 L61.13 0M64.11 -8.77 L64.44 -8.45 L64.77 -8.77 L64.44 -9.09 L64.11 -8.77M64.44 -5.53 L64.44 0M67.74 -5.53 L67.74 0M67.74 -3.16 L68.15 -4.35 L68.98 -5.13 L69.81 -5.53 L71.05 -5.53M72.7 -3.16 L77.65 -3.16 L77.65 -3.95 L77.24 -4.74 L76.83 -5.13 L76 -5.53 L74.76 -5.53 L73.94 -5.13 L73.11 -4.35 L72.7 -3.16 L72.7 -2.37 L73.11 -1.19 L73.94 -0.4 L74.76 0 L76 0 L76.83 -0.4 L77.65 -1.19M85.09 -8.29 L85.09 0M85.09 -4.35 L84.26 -5.13 L83.44 -5.53 L82.2 -5.53 L81.37 -5.13 L80.55 -4.35 L80.13 -3.16 L80.13 -2.37 L80.55 -1.19 L81.37 -0.4 L82.2 0 L83.44 0 L84.26 -0.4 L85.09 -1.19M100.37 -7.11 L99.55 -7.9 L98.31 -8.29 L96.65 -8.29 L95.42 -7.9 L94.59 -7.11 L94.59 -6.32 L95 -5.53 L95.42 -5.13 L96.24 -4.74 L98.72 -3.95 L99.55 -3.56 L99.96 -3.16 L100.37 -2.37 L100.37 -1.19 L99.55 -0.4 L98.31 0 L96.65 0 L95.42 -0.4 L94.59 -1.19M109.87 -9.88 L102.44 2.77M112.35 -8.29 L112.35 0M112.35 -8.29 L118.13 0M118.13 -8.29 L118.13 0M121.03 -9.88 L121.85 -9.09 L122.68 -7.9 L123.5 -6.32 L123.92 -4.35 L123.92 -2.77 L123.5 -0.79 L122.68 0.79 L121.85 1.98 L121.03 2.77" fill="none" stroke="#000" stroke-width="2.1" stroke-linecap="round" stroke-linejoin="round"/>
</svg>
</body></html>
